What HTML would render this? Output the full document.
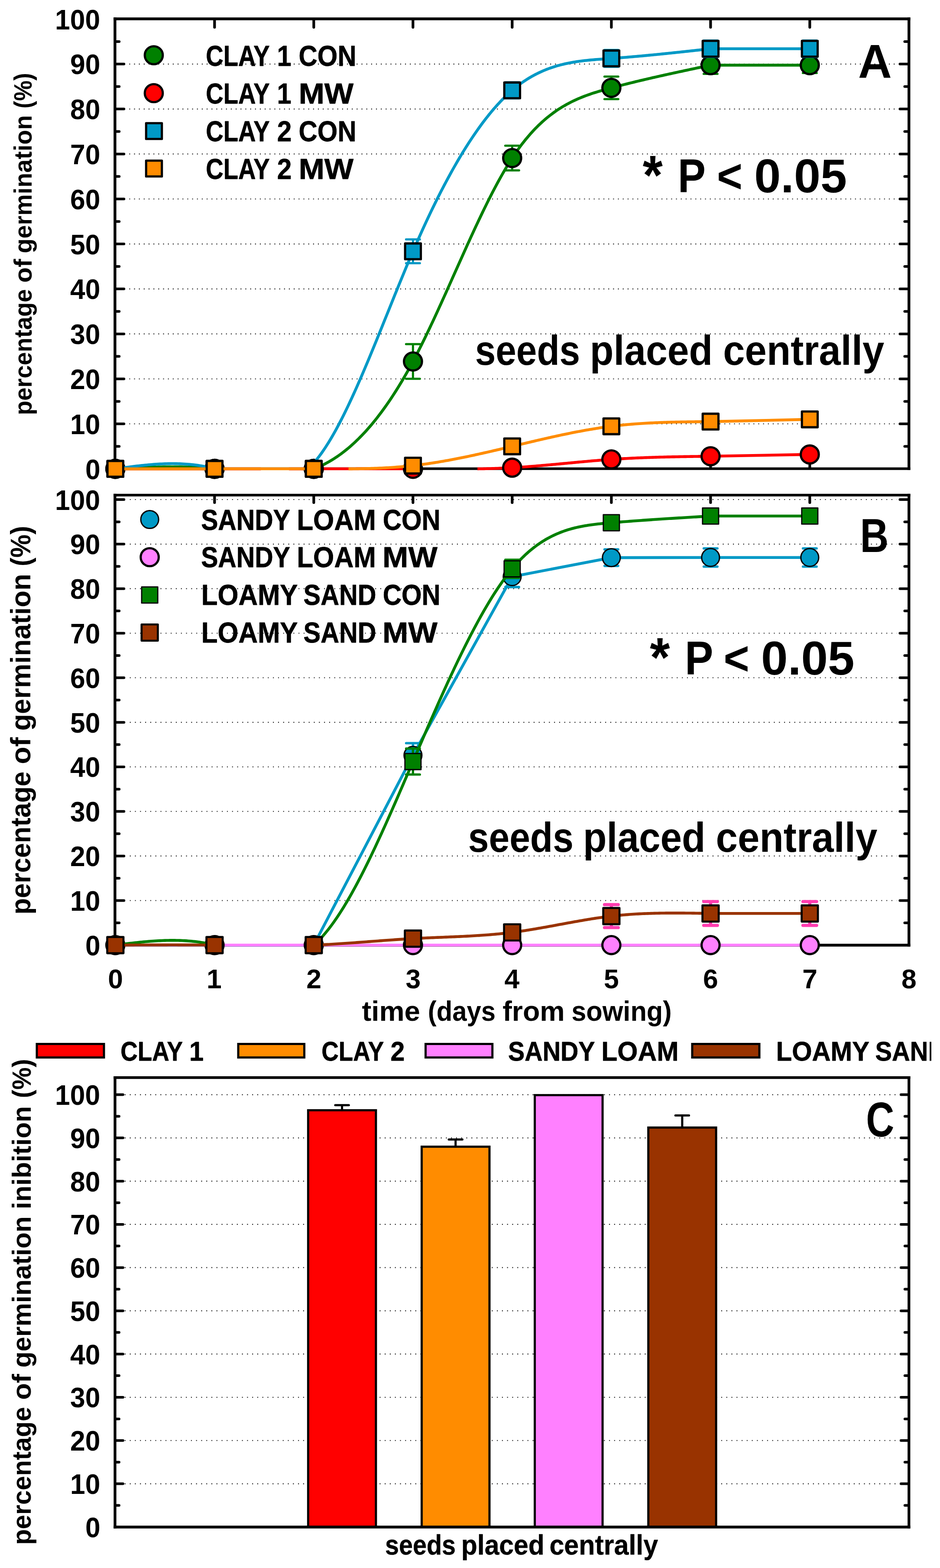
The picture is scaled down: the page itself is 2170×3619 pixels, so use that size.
<!DOCTYPE html>
<html lang="en"><head><meta charset="utf-8"><title>Germination figure</title>
<style>html,body{margin:0;padding:0;background:#fff;overflow:hidden}svg{display:block}</style></head>
<body>
<svg width="2170" height="3619" viewBox="0 0 2170 3619">
<rect width="2170" height="3619" fill="#fff"/>
<g id="panelA">
<line x1="298.3" y1="978.29" x2="2070.0" y2="978.29" stroke="#151515" stroke-width="2.15" stroke-dasharray="2.15 9.02"/>
<line x1="298.3" y1="874.48" x2="2070.0" y2="874.48" stroke="#151515" stroke-width="2.15" stroke-dasharray="2.15 9.02"/>
<line x1="298.3" y1="770.67" x2="2070.0" y2="770.67" stroke="#151515" stroke-width="2.15" stroke-dasharray="2.15 9.02"/>
<line x1="298.3" y1="666.86" x2="2070.0" y2="666.86" stroke="#151515" stroke-width="2.15" stroke-dasharray="2.15 9.02"/>
<line x1="298.3" y1="563.05" x2="2070.0" y2="563.05" stroke="#151515" stroke-width="2.15" stroke-dasharray="2.15 9.02"/>
<line x1="298.3" y1="459.24" x2="2070.0" y2="459.24" stroke="#151515" stroke-width="2.15" stroke-dasharray="2.15 9.02"/>
<line x1="298.3" y1="355.43" x2="2070.0" y2="355.43" stroke="#151515" stroke-width="2.15" stroke-dasharray="2.15 9.02"/>
<line x1="298.3" y1="251.62" x2="2070.0" y2="251.62" stroke="#151515" stroke-width="2.15" stroke-dasharray="2.15 9.02"/>
<line x1="298.3" y1="147.81" x2="2070.0" y2="147.81" stroke="#151515" stroke-width="2.15" stroke-dasharray="2.15 9.02"/>
<g stroke="#000" stroke-linecap="butt">
<line x1="265.40" y1="40.15" x2="265.40" y2="1084.85" stroke-width="6.40"/>
<line x1="2098.30" y1="40.15" x2="2098.30" y2="1084.85" stroke-width="6.40"/>
<line x1="262.20" y1="43.40" x2="2101.50" y2="43.40" stroke-width="6.50"/>
<line x1="262.20" y1="1081.85" x2="2101.50" y2="1081.85" stroke-width="6.00"/>
</g>
<line x1="266.90" y1="1030.19" x2="275.20" y2="1030.19" stroke="#000" stroke-width="6.00" stroke-linecap="round"/>
<line x1="2096.80" y1="1030.19" x2="2088.50" y2="1030.19" stroke="#000" stroke-width="6.00" stroke-linecap="round"/>
<line x1="266.90" y1="978.29" x2="286.20" y2="978.29" stroke="#000" stroke-width="6.00" stroke-linecap="round"/>
<line x1="2096.80" y1="978.29" x2="2077.50" y2="978.29" stroke="#000" stroke-width="6.00" stroke-linecap="round"/>
<line x1="266.90" y1="926.38" x2="275.20" y2="926.38" stroke="#000" stroke-width="6.00" stroke-linecap="round"/>
<line x1="2096.80" y1="926.38" x2="2088.50" y2="926.38" stroke="#000" stroke-width="6.00" stroke-linecap="round"/>
<line x1="266.90" y1="874.48" x2="286.20" y2="874.48" stroke="#000" stroke-width="6.00" stroke-linecap="round"/>
<line x1="2096.80" y1="874.48" x2="2077.50" y2="874.48" stroke="#000" stroke-width="6.00" stroke-linecap="round"/>
<line x1="266.90" y1="822.57" x2="275.20" y2="822.57" stroke="#000" stroke-width="6.00" stroke-linecap="round"/>
<line x1="2096.80" y1="822.57" x2="2088.50" y2="822.57" stroke="#000" stroke-width="6.00" stroke-linecap="round"/>
<line x1="266.90" y1="770.67" x2="286.20" y2="770.67" stroke="#000" stroke-width="6.00" stroke-linecap="round"/>
<line x1="2096.80" y1="770.67" x2="2077.50" y2="770.67" stroke="#000" stroke-width="6.00" stroke-linecap="round"/>
<line x1="266.90" y1="718.76" x2="275.20" y2="718.76" stroke="#000" stroke-width="6.00" stroke-linecap="round"/>
<line x1="2096.80" y1="718.76" x2="2088.50" y2="718.76" stroke="#000" stroke-width="6.00" stroke-linecap="round"/>
<line x1="266.90" y1="666.86" x2="286.20" y2="666.86" stroke="#000" stroke-width="6.00" stroke-linecap="round"/>
<line x1="2096.80" y1="666.86" x2="2077.50" y2="666.86" stroke="#000" stroke-width="6.00" stroke-linecap="round"/>
<line x1="266.90" y1="614.95" x2="275.20" y2="614.95" stroke="#000" stroke-width="6.00" stroke-linecap="round"/>
<line x1="2096.80" y1="614.95" x2="2088.50" y2="614.95" stroke="#000" stroke-width="6.00" stroke-linecap="round"/>
<line x1="266.90" y1="563.05" x2="286.20" y2="563.05" stroke="#000" stroke-width="6.00" stroke-linecap="round"/>
<line x1="2096.80" y1="563.05" x2="2077.50" y2="563.05" stroke="#000" stroke-width="6.00" stroke-linecap="round"/>
<line x1="266.90" y1="511.14" x2="275.20" y2="511.14" stroke="#000" stroke-width="6.00" stroke-linecap="round"/>
<line x1="2096.80" y1="511.14" x2="2088.50" y2="511.14" stroke="#000" stroke-width="6.00" stroke-linecap="round"/>
<line x1="266.90" y1="459.24" x2="286.20" y2="459.24" stroke="#000" stroke-width="6.00" stroke-linecap="round"/>
<line x1="2096.80" y1="459.24" x2="2077.50" y2="459.24" stroke="#000" stroke-width="6.00" stroke-linecap="round"/>
<line x1="266.90" y1="407.33" x2="275.20" y2="407.33" stroke="#000" stroke-width="6.00" stroke-linecap="round"/>
<line x1="2096.80" y1="407.33" x2="2088.50" y2="407.33" stroke="#000" stroke-width="6.00" stroke-linecap="round"/>
<line x1="266.90" y1="355.43" x2="286.20" y2="355.43" stroke="#000" stroke-width="6.00" stroke-linecap="round"/>
<line x1="2096.80" y1="355.43" x2="2077.50" y2="355.43" stroke="#000" stroke-width="6.00" stroke-linecap="round"/>
<line x1="266.90" y1="303.52" x2="275.20" y2="303.52" stroke="#000" stroke-width="6.00" stroke-linecap="round"/>
<line x1="2096.80" y1="303.52" x2="2088.50" y2="303.52" stroke="#000" stroke-width="6.00" stroke-linecap="round"/>
<line x1="266.90" y1="251.62" x2="286.20" y2="251.62" stroke="#000" stroke-width="6.00" stroke-linecap="round"/>
<line x1="2096.80" y1="251.62" x2="2077.50" y2="251.62" stroke="#000" stroke-width="6.00" stroke-linecap="round"/>
<line x1="266.90" y1="199.71" x2="275.20" y2="199.71" stroke="#000" stroke-width="6.00" stroke-linecap="round"/>
<line x1="2096.80" y1="199.71" x2="2088.50" y2="199.71" stroke="#000" stroke-width="6.00" stroke-linecap="round"/>
<line x1="266.90" y1="147.81" x2="286.20" y2="147.81" stroke="#000" stroke-width="6.00" stroke-linecap="round"/>
<line x1="2096.80" y1="147.81" x2="2077.50" y2="147.81" stroke="#000" stroke-width="6.00" stroke-linecap="round"/>
<line x1="266.90" y1="95.90" x2="275.20" y2="95.90" stroke="#000" stroke-width="6.00" stroke-linecap="round"/>
<line x1="2096.80" y1="95.90" x2="2088.50" y2="95.90" stroke="#000" stroke-width="6.00" stroke-linecap="round"/>
<line x1="495.31" y1="45.00" x2="495.31" y2="63.00" stroke="#000" stroke-width="6.20" stroke-linecap="round"/>
<line x1="724.33" y1="45.00" x2="724.33" y2="63.00" stroke="#000" stroke-width="6.20" stroke-linecap="round"/>
<line x1="953.34" y1="45.00" x2="953.34" y2="63.00" stroke="#000" stroke-width="6.20" stroke-linecap="round"/>
<line x1="1182.35" y1="45.00" x2="1182.35" y2="63.00" stroke="#000" stroke-width="6.20" stroke-linecap="round"/>
<line x1="1411.36" y1="45.00" x2="1411.36" y2="63.00" stroke="#000" stroke-width="6.20" stroke-linecap="round"/>
<line x1="1640.38" y1="45.00" x2="1640.38" y2="63.00" stroke="#000" stroke-width="6.20" stroke-linecap="round"/>
<line x1="1869.39" y1="45.00" x2="1869.39" y2="63.00" stroke="#000" stroke-width="6.20" stroke-linecap="round"/>
<line x1="495.31" y1="1080.50" x2="495.31" y2="1062.50" stroke="#000" stroke-width="6.20" stroke-linecap="round"/>
<line x1="724.33" y1="1080.50" x2="724.33" y2="1062.50" stroke="#000" stroke-width="6.20" stroke-linecap="round"/>
<line x1="953.34" y1="1080.50" x2="953.34" y2="1062.50" stroke="#000" stroke-width="6.20" stroke-linecap="round"/>
<line x1="1182.35" y1="1080.50" x2="1182.35" y2="1062.50" stroke="#000" stroke-width="6.20" stroke-linecap="round"/>
<line x1="1411.36" y1="1080.50" x2="1411.36" y2="1062.50" stroke="#000" stroke-width="6.20" stroke-linecap="round"/>
<line x1="1640.38" y1="1080.50" x2="1640.38" y2="1062.50" stroke="#000" stroke-width="6.20" stroke-linecap="round"/>
<line x1="1869.39" y1="1080.50" x2="1869.39" y2="1062.50" stroke="#000" stroke-width="6.20" stroke-linecap="round"/>
<text transform="matrix(0.6240 0 0 0.6460 196.88 1105.60)" font-family="Liberation Sans, sans-serif" font-weight="bold" font-size="100" fill="#000">0</text>
<text transform="matrix(0.6240 0 0 0.6460 161.93 1001.79)" font-family="Liberation Sans, sans-serif" font-weight="bold" font-size="100" fill="#000">10</text>
<text transform="matrix(0.6240 0 0 0.6460 161.93 897.98)" font-family="Liberation Sans, sans-serif" font-weight="bold" font-size="100" fill="#000">20</text>
<text transform="matrix(0.6240 0 0 0.6460 161.93 794.17)" font-family="Liberation Sans, sans-serif" font-weight="bold" font-size="100" fill="#000">30</text>
<text transform="matrix(0.6240 0 0 0.6460 161.93 690.36)" font-family="Liberation Sans, sans-serif" font-weight="bold" font-size="100" fill="#000">40</text>
<text transform="matrix(0.6240 0 0 0.6460 161.93 586.55)" font-family="Liberation Sans, sans-serif" font-weight="bold" font-size="100" fill="#000">50</text>
<text transform="matrix(0.6240 0 0 0.6460 161.93 482.74)" font-family="Liberation Sans, sans-serif" font-weight="bold" font-size="100" fill="#000">60</text>
<text transform="matrix(0.6240 0 0 0.6460 161.93 378.93)" font-family="Liberation Sans, sans-serif" font-weight="bold" font-size="100" fill="#000">70</text>
<text transform="matrix(0.6240 0 0 0.6460 161.93 275.12)" font-family="Liberation Sans, sans-serif" font-weight="bold" font-size="100" fill="#000">80</text>
<text transform="matrix(0.6240 0 0 0.6460 161.93 171.31)" font-family="Liberation Sans, sans-serif" font-weight="bold" font-size="100" fill="#000">90</text>
<text transform="matrix(0.6240 0 0 0.6460 126.99 67.50)" font-family="Liberation Sans, sans-serif" font-weight="bold" font-size="100" fill="#000">100</text>
<text transform="matrix(0 -1 0.5700 0 73.20 0)" font-family="Liberation Sans, sans-serif" font-weight="bold" font-size="100" fill="#000"><tspan x="-958.01" y="0.00" textLength="290.65" lengthAdjust="spacingAndGlyphs">percentage</tspan> <tspan x="-652.52" y="0.00" textLength="54.75" lengthAdjust="spacingAndGlyphs">of</tspan> <tspan x="-584.53" y="0.00" textLength="318.72" lengthAdjust="spacingAndGlyphs">germination</tspan> <tspan x="-250.44" y="0.00" textLength="82.03" lengthAdjust="spacingAndGlyphs">(%)</tspan></text>
<path d="M266.30 1082.10 L270.12 1081.90 L273.93 1081.70 L277.75 1081.50 L281.57 1081.30 L285.38 1081.10 L289.20 1080.90 L293.02 1080.71 L296.84 1080.52 L300.65 1080.33 L304.47 1080.14 L308.29 1079.96 L312.10 1079.78 L315.92 1079.60 L319.74 1079.43 L323.55 1079.27 L327.37 1079.11 L331.19 1078.95 L335.00 1078.80 L338.82 1078.66 L342.64 1078.52 L346.45 1078.39 L350.27 1078.26 L354.09 1078.15 L357.91 1078.04 L361.72 1077.94 L365.54 1077.85 L369.36 1077.76 L373.17 1077.69 L376.99 1077.62 L380.81 1077.57 L384.62 1077.52 L388.44 1077.49 L392.26 1077.46 L396.07 1077.45 L399.89 1077.45 L403.71 1077.46 L407.52 1077.48 L411.34 1077.51 L415.16 1077.56 L418.98 1077.62 L422.79 1077.70 L426.61 1077.78 L430.43 1077.89 L434.24 1078.00 L438.06 1078.13 L441.88 1078.28 L445.69 1078.44 L449.51 1078.62 L453.33 1078.81 L457.14 1079.02 L460.96 1079.25 L464.78 1079.49 L468.59 1079.75 L472.41 1080.03 L476.23 1080.33 L480.05 1080.65 L483.86 1080.98 L487.68 1081.33 L491.50 1081.71 L495.31 1082.10 M724.33 1082.10 L728.14 1080.65 L731.96 1079.12 L735.78 1077.50 L739.59 1075.81 L743.41 1074.03 L747.23 1072.17 L751.04 1070.22 L754.86 1068.19 L758.68 1066.08 L762.49 1063.88 L766.31 1061.60 L770.13 1059.23 L773.94 1056.77 L777.76 1054.23 L781.58 1051.59 L785.39 1048.87 L789.21 1046.07 L793.03 1043.17 L796.85 1040.18 L800.66 1037.10 L804.48 1033.93 L808.30 1030.67 L812.11 1027.32 L815.93 1023.88 L819.75 1020.34 L823.56 1016.72 L827.38 1012.99 L831.20 1009.18 L835.01 1005.26 L838.83 1001.26 L842.65 997.16 L846.46 992.96 L850.28 988.66 L854.10 984.27 L857.92 979.78 L861.73 975.19 L865.55 970.50 L869.37 965.72 L873.18 960.83 L877.00 955.85 L880.82 950.76 L884.63 945.57 L888.45 940.28 L892.27 934.89 L896.08 929.39 L899.90 923.80 L903.72 918.09 L907.54 912.29 L911.35 906.38 L915.17 900.36 L918.99 894.24 L922.80 888.01 L926.62 881.68 L930.44 875.24 L934.25 868.69 L938.07 862.03 L941.89 855.26 L945.70 848.39 L949.52 841.40 L953.34 834.31 L957.15 827.10 L960.97 819.79 L964.79 812.37 L968.61 804.86 L972.42 797.26 L976.24 789.56 L980.06 781.79 L983.87 773.93 L987.69 766.00 L991.51 757.99 L995.32 749.92 L999.14 741.79 L1002.96 733.60 L1006.77 725.35 L1010.59 717.06 L1014.41 708.72 L1018.22 700.35 L1022.04 691.93 L1025.86 683.49 L1029.68 675.02 L1033.49 666.52 L1037.31 658.01 L1041.13 649.49 L1044.94 640.95 L1048.76 632.41 L1052.58 623.87 L1056.39 615.33 L1060.21 606.81 L1064.03 598.29 L1067.84 589.79 L1071.66 581.32 L1075.48 572.87 L1079.29 564.45 L1083.11 556.06 L1086.93 547.72 L1090.75 539.42 L1094.56 531.16 L1098.38 522.96 L1102.20 514.82 L1106.01 506.74 L1109.83 498.72 L1113.65 490.77 L1117.46 482.90 L1121.28 475.11 L1125.10 467.40 L1128.91 459.78 L1132.73 452.25 L1136.55 444.82 L1140.36 437.48 L1144.18 430.26 L1148.00 423.14 L1151.82 416.14 L1155.63 409.26 L1159.45 402.50 L1163.27 395.87 L1167.08 389.37 L1170.90 383.00 L1174.72 376.78 L1178.53 370.70 L1182.35 364.77 L1186.17 359.00 L1189.98 353.37 L1193.80 347.90 L1197.62 342.57 L1201.43 337.39 L1205.25 332.35 L1209.07 327.45 L1212.88 322.68 L1216.70 318.05 L1220.52 313.55 L1224.34 309.18 L1228.15 304.94 L1231.97 300.82 L1235.79 296.83 L1239.60 292.95 L1243.42 289.20 L1247.24 285.55 L1251.05 282.02 L1254.87 278.60 L1258.69 275.29 L1262.50 272.08 L1266.32 268.98 L1270.14 265.97 L1273.96 263.06 L1277.77 260.25 L1281.59 257.53 L1285.41 254.90 L1289.22 252.36 L1293.04 249.91 L1296.86 247.53 L1300.67 245.24 L1304.49 243.03 L1308.31 240.89 L1312.12 238.83 L1315.94 236.83 L1319.76 234.91 L1323.57 233.05 L1327.39 231.25 L1331.21 229.52 L1335.03 227.84 L1338.84 226.22 L1342.66 224.65 L1346.48 223.14 L1350.29 221.67 L1354.11 220.25 L1357.93 218.87 L1361.74 217.54 L1365.56 216.24 L1369.38 214.98 L1373.19 213.75 L1377.01 212.56 L1380.83 211.39 L1384.64 210.26 L1388.46 209.14 L1392.28 208.05 L1396.10 206.98 L1399.91 205.92 L1403.73 204.88 L1407.55 203.85 L1411.36 202.83 L1415.18 201.82 L1419.00 200.81 L1422.81 199.81 L1426.63 198.82 L1430.45 197.84 L1434.26 196.86 L1438.08 195.88 L1441.90 194.92 L1445.71 193.96 L1449.53 193.00 L1453.35 192.06 L1457.17 191.12 L1460.98 190.18 L1464.80 189.25 L1468.62 188.32 L1472.43 187.40 L1476.25 186.49 L1480.07 185.58 L1483.88 184.67 L1487.70 183.77 L1491.52 182.88 L1495.33 181.99 L1499.15 181.10 L1502.97 180.22 L1506.78 179.34 L1510.60 178.47 L1514.42 177.60 L1518.24 176.74 L1522.05 175.87 L1525.87 175.02 L1529.69 174.16 L1533.50 173.31 L1537.32 172.46 L1541.14 171.62 L1544.95 170.78 L1548.77 169.94 L1552.59 169.11 L1556.40 168.27 L1560.22 167.44 L1564.04 166.62 L1567.85 165.79 L1571.67 164.97 L1575.49 164.15 L1579.31 163.33 L1583.12 162.51 L1586.94 161.70 L1590.76 160.88 L1594.57 160.07 L1598.39 159.26 L1602.21 158.45 L1606.02 157.64 L1609.84 156.84 L1613.66 156.03 L1617.47 155.23 L1621.29 154.42 L1625.11 153.62 L1628.92 152.81 L1632.74 152.01 L1636.56 151.21 L1640.38 150.41 L1869.39 150.41" fill="none" stroke="#008000" stroke-width="6.60" stroke-linejoin="round" stroke-linecap="butt"/>
<path d="M953.34 794.31 V874.31 M937.34 794.31 H969.34 M937.34 874.31 H969.34" fill="none" stroke="#008000" stroke-width="5.00" stroke-linecap="round"/>
<path d="M1182.35 336.27 V393.27 M1166.35 336.27 H1198.35 M1166.35 393.27 H1198.35" fill="none" stroke="#008000" stroke-width="5.00" stroke-linecap="round"/>
<path d="M1411.36 176.83 V228.83 M1395.36 176.83 H1427.36 M1395.36 228.83 H1427.36" fill="none" stroke="#008000" stroke-width="5.00" stroke-linecap="round"/>
<path d="M1640.38 130.41 V170.41 M1624.38 130.41 H1656.38 M1624.38 170.41 H1656.38" fill="none" stroke="#008000" stroke-width="5.00" stroke-linecap="round"/>
<path d="M1869.39 132.41 V168.41 M1853.39 132.41 H1885.39 M1853.39 168.41 H1885.39" fill="none" stroke="#008000" stroke-width="5.00" stroke-linecap="round"/>
<circle cx="266.30" cy="1082.10" r="20.80" fill="#008000" stroke="#000" stroke-width="5.10"/>
<circle cx="495.31" cy="1082.10" r="20.80" fill="#008000" stroke="#000" stroke-width="5.10"/>
<circle cx="724.33" cy="1082.10" r="20.80" fill="#008000" stroke="#000" stroke-width="5.10"/>
<circle cx="953.34" cy="834.31" r="20.80" fill="#008000" stroke="#000" stroke-width="5.10"/>
<circle cx="1182.35" cy="364.77" r="20.80" fill="#008000" stroke="#000" stroke-width="5.10"/>
<circle cx="1411.36" cy="202.83" r="20.80" fill="#008000" stroke="#000" stroke-width="5.10"/>
<circle cx="1640.38" cy="150.41" r="20.80" fill="#008000" stroke="#000" stroke-width="5.10"/>
<circle cx="1869.39" cy="150.41" r="20.80" fill="#008000" stroke="#000" stroke-width="5.10"/>
<path d="M266.30 1082.10 L270.12 1082.10 L273.93 1082.10 L277.75 1082.10 L281.57 1082.10 L285.38 1082.10 L289.20 1082.10 L293.02 1082.09 L296.84 1082.09 L300.65 1082.09 L304.47 1082.09 L308.29 1082.09 L312.10 1082.09 L315.92 1082.09 L319.74 1082.09 L323.55 1082.09 L327.37 1082.09 L331.19 1082.09 L335.00 1082.09 L338.82 1082.09 L342.64 1082.09 L346.45 1082.09 L350.27 1082.08 L354.09 1082.08 L357.91 1082.08 L361.72 1082.08 L365.54 1082.08 L369.36 1082.08 L373.17 1082.08 L376.99 1082.08 L380.81 1082.08 L384.62 1082.08 L388.44 1082.08 L392.26 1082.08 L396.07 1082.08 L399.89 1082.08 L403.71 1082.08 L407.52 1082.08 L411.34 1082.08 L415.16 1082.08 L418.98 1082.08 L422.79 1082.08 L426.61 1082.08 L430.43 1082.08 L434.24 1082.08 L438.06 1082.08 L441.88 1082.09 L445.69 1082.09 L449.51 1082.09 L453.33 1082.09 L457.14 1082.09 L460.96 1082.09 L464.78 1082.09 L468.59 1082.09 L472.41 1082.09 L476.23 1082.09 L480.05 1082.09 L483.86 1082.10 L487.68 1082.10 L491.50 1082.10 L495.31 1082.10 L499.13 1082.10 L502.95 1082.10 L506.76 1082.10 L510.58 1082.10 L514.40 1082.10 L518.21 1082.10 L522.03 1082.10 L525.85 1082.10 L529.66 1082.10 L533.48 1082.10 L537.30 1082.10 L541.12 1082.10 L544.93 1082.10 L548.75 1082.10 L552.57 1082.10 L556.38 1082.10 L560.20 1082.10 L564.02 1082.10 L567.83 1082.10 L571.65 1082.10 L575.47 1082.10 L579.28 1082.10 L583.10 1082.10 L586.92 1082.10 L590.73 1082.10 L594.55 1082.10 L598.37 1082.10 L602.18 1082.10 M667.07 1082.10 L670.89 1082.10 L674.71 1082.10 L678.52 1082.10 L682.34 1082.10 L686.16 1082.10 L689.97 1082.10 L693.79 1082.10 L697.61 1082.10 L701.42 1082.10 L705.24 1082.10 L709.06 1082.10 L712.87 1082.10 L716.69 1082.10 L720.51 1082.10 L724.33 1082.10 L728.14 1082.09 L731.96 1082.09 L735.78 1082.08 L739.59 1082.08 L743.41 1082.07 L747.23 1082.06 L751.04 1082.05 L754.86 1082.05 L758.68 1082.04 L762.49 1082.03 L766.31 1082.03 L770.13 1082.02 L773.94 1082.01 L777.76 1082.00 L781.58 1082.00 L785.39 1081.99 L789.21 1081.98 L793.03 1081.97 L796.85 1081.97 L800.66 1081.96 L804.48 1081.95 L808.30 1081.95 L812.11 1081.94 L815.93 1081.93 L819.75 1081.93 L823.56 1081.92 L827.38 1081.92 L831.20 1081.91 L835.01 1081.91 L838.83 1081.90 L842.65 1081.90 L846.46 1081.90 L850.28 1081.90 L854.10 1081.89 L857.92 1081.89 L861.73 1081.89 L865.55 1081.89 L869.37 1081.89 L873.18 1081.89 L877.00 1081.89 L880.82 1081.90 L884.63 1081.90 L888.45 1081.90 L892.27 1081.91 L896.08 1081.91 L899.90 1081.92 L903.72 1081.92 L907.54 1081.93 L911.35 1081.94 L915.17 1081.95 L918.99 1081.96 L922.80 1081.97 L926.62 1081.98 L930.44 1082.00 L934.25 1082.01 L938.07 1082.03 L941.89 1082.04 L945.70 1082.06 L949.52 1082.08 L953.34 1082.10 L957.15 1082.10 L960.97 1082.10 M1102.20 1082.10 L1106.01 1082.07 L1109.83 1082.00 L1113.65 1081.93 L1117.46 1081.85 L1121.28 1081.76 L1125.10 1081.67 L1128.91 1081.57 L1132.73 1081.46 L1136.55 1081.35 L1140.36 1081.23 L1144.18 1081.10 L1148.00 1080.96 L1151.82 1080.82 L1155.63 1080.67 L1159.45 1080.52 L1163.27 1080.35 L1167.08 1080.18 L1170.90 1080.00 L1174.72 1079.81 L1178.53 1079.61 L1182.35 1079.40 L1186.17 1079.18 L1189.98 1078.96 L1193.80 1078.73 L1197.62 1078.49 L1201.43 1078.24 L1205.25 1077.98 L1209.07 1077.72 L1212.88 1077.45 L1216.70 1077.17 L1220.52 1076.88 L1224.34 1076.59 L1228.15 1076.30 L1231.97 1076.00 L1235.79 1075.69 L1239.60 1075.37 L1243.42 1075.06 L1247.24 1074.74 L1251.05 1074.41 L1254.87 1074.08 L1258.69 1073.74 L1262.50 1073.41 L1266.32 1073.06 L1270.14 1072.72 L1273.96 1072.37 L1277.77 1072.02 L1281.59 1071.67 L1285.41 1071.32 L1289.22 1070.96 L1293.04 1070.60 L1296.86 1070.25 L1300.67 1069.89 L1304.49 1069.53 L1308.31 1069.17 L1312.12 1068.81 L1315.94 1068.45 L1319.76 1068.09 L1323.57 1067.73 L1327.39 1067.37 L1331.21 1067.02 L1335.03 1066.66 L1338.84 1066.31 L1342.66 1065.96 L1346.48 1065.61 L1350.29 1065.26 L1354.11 1064.92 L1357.93 1064.58 L1361.74 1064.24 L1365.56 1063.91 L1369.38 1063.58 L1373.19 1063.26 L1377.01 1062.94 L1380.83 1062.62 L1384.64 1062.31 L1388.46 1062.01 L1392.28 1061.71 L1396.10 1061.41 L1399.91 1061.12 L1403.73 1060.84 L1407.55 1060.57 L1411.36 1060.30 L1415.18 1060.04 L1419.00 1059.79 L1422.81 1059.54 L1426.63 1059.30 L1430.45 1059.07 L1434.26 1058.84 L1438.08 1058.62 L1441.90 1058.40 L1445.71 1058.20 L1449.53 1057.99 L1453.35 1057.80 L1457.17 1057.61 L1460.98 1057.42 L1464.80 1057.25 L1468.62 1057.07 L1472.43 1056.91 L1476.25 1056.74 L1480.07 1056.59 L1483.88 1056.43 L1487.70 1056.29 L1491.52 1056.14 L1495.33 1056.01 L1499.15 1055.87 L1502.97 1055.74 L1506.78 1055.62 L1510.60 1055.50 L1514.42 1055.38 L1518.24 1055.27 L1522.05 1055.16 L1525.87 1055.06 L1529.69 1054.95 L1533.50 1054.86 L1537.32 1054.76 L1541.14 1054.67 L1544.95 1054.58 L1548.77 1054.50 L1552.59 1054.41 L1556.40 1054.33 L1560.22 1054.26 L1564.04 1054.18 L1567.85 1054.11 L1571.67 1054.04 L1575.49 1053.97 L1579.31 1053.91 L1583.12 1053.84 L1586.94 1053.78 L1590.76 1053.72 L1594.57 1053.66 L1598.39 1053.60 L1602.21 1053.55 L1606.02 1053.49 L1609.84 1053.44 L1613.66 1053.39 L1617.47 1053.33 L1621.29 1053.28 L1625.11 1053.23 L1628.92 1053.18 L1632.74 1053.13 L1636.56 1053.08 L1640.38 1053.03 L1869.39 1048.88" fill="none" stroke="#FF0000" stroke-width="6.60" stroke-linejoin="round" stroke-linecap="butt"/>
<circle cx="266.30" cy="1082.10" r="20.80" fill="#FF0000" stroke="#000" stroke-width="5.10"/>
<circle cx="495.31" cy="1082.10" r="20.80" fill="#FF0000" stroke="#000" stroke-width="5.10"/>
<circle cx="724.33" cy="1082.10" r="20.80" fill="#FF0000" stroke="#000" stroke-width="5.10"/>
<circle cx="953.34" cy="1082.10" r="20.80" fill="#FF0000" stroke="#000" stroke-width="5.10"/>
<circle cx="1182.35" cy="1079.40" r="20.80" fill="#FF0000" stroke="#000" stroke-width="5.10"/>
<circle cx="1411.36" cy="1060.30" r="20.80" fill="#FF0000" stroke="#000" stroke-width="5.10"/>
<circle cx="1640.38" cy="1053.03" r="20.80" fill="#FF0000" stroke="#000" stroke-width="5.10"/>
<circle cx="1869.39" cy="1048.88" r="20.80" fill="#FF0000" stroke="#000" stroke-width="5.10"/>
<path d="M266.30 1082.10 L270.12 1081.58 L273.93 1081.06 L277.75 1080.54 L281.57 1080.02 L285.38 1079.51 L289.20 1079.00 L293.02 1078.50 L296.84 1078.00 L300.65 1077.51 L304.47 1077.03 L308.29 1076.56 L312.10 1076.09 L315.92 1075.64 L319.74 1075.20 L323.55 1074.77 L327.37 1074.35 L331.19 1073.95 L335.00 1073.56 L338.82 1073.19 L342.64 1072.83 L346.45 1072.49 L350.27 1072.17 L354.09 1071.87 L357.91 1071.59 L361.72 1071.33 L365.54 1071.09 L369.36 1070.88 L373.17 1070.68 L376.99 1070.51 L380.81 1070.37 L384.62 1070.25 L388.44 1070.16 L392.26 1070.10 L396.07 1070.07 L399.89 1070.06 L403.71 1070.09 L407.52 1070.15 L411.34 1070.24 L415.16 1070.36 L418.98 1070.52 L422.79 1070.71 L426.61 1070.93 L430.43 1071.20 L434.24 1071.50 L438.06 1071.84 L441.88 1072.22 L445.69 1072.63 L449.51 1073.09 L453.33 1073.59 L457.14 1074.14 L460.96 1074.72 L464.78 1075.35 L468.59 1076.03 L472.41 1076.75 L476.23 1077.52 L480.05 1078.34 L483.86 1079.20 L487.68 1080.12 L491.50 1081.08 L495.31 1082.10 M712.87 1080.56 L716.69 1076.80 L720.51 1072.81 L724.33 1068.60 L728.14 1064.17 L731.96 1059.50 L735.78 1054.62 L739.59 1049.52 L743.41 1044.21 L747.23 1038.69 L751.04 1032.97 L754.86 1027.06 L758.68 1020.96 L762.49 1014.68 L766.31 1008.22 L770.13 1001.58 L773.94 994.77 L777.76 987.80 L781.58 980.68 L785.39 973.40 L789.21 965.97 L793.03 958.39 L796.85 950.68 L800.66 942.84 L804.48 934.87 L808.30 926.78 L812.11 918.57 L815.93 910.25 L819.75 901.83 L823.56 893.30 L827.38 884.67 L831.20 875.96 L835.01 867.16 L838.83 858.28 L842.65 849.32 L846.46 840.29 L850.28 831.20 L854.10 822.05 L857.92 812.84 L861.73 803.58 L865.55 794.28 L869.37 784.94 L873.18 775.57 L877.00 766.17 L880.82 756.74 L884.63 747.30 L888.45 737.84 L892.27 728.38 L896.08 718.91 L899.90 709.44 L903.72 699.98 L907.54 690.54 L911.35 681.11 L915.17 671.71 L918.99 662.33 L922.80 652.99 L926.62 643.68 L930.44 634.42 L934.25 625.21 L938.07 616.06 L941.89 606.96 L945.70 597.93 L949.52 588.96 L953.34 580.07 L957.15 571.27 L960.97 562.54 L964.79 553.89 L968.61 545.33 L972.42 536.84 L976.24 528.44 L980.06 520.12 L983.87 511.89 L987.69 503.74 L991.51 495.67 L995.32 487.68 L999.14 479.78 L1002.96 471.97 L1006.77 464.24 L1010.59 456.60 L1014.41 449.05 L1018.22 441.58 L1022.04 434.19 L1025.86 426.90 L1029.68 419.70 L1033.49 412.58 L1037.31 405.55 L1041.13 398.61 L1044.94 391.76 L1048.76 385.00 L1052.58 378.34 L1056.39 371.76 L1060.21 365.27 L1064.03 358.88 L1067.84 352.58 L1071.66 346.37 L1075.48 340.25 L1079.29 334.23 L1083.11 328.30 L1086.93 322.47 L1090.75 316.73 L1094.56 311.09 L1098.38 305.54 L1102.20 300.09 L1106.01 294.73 L1109.83 289.48 L1113.65 284.32 L1117.46 279.25 L1121.28 274.29 L1125.10 269.42 L1128.91 264.65 L1132.73 259.99 L1136.55 255.42 L1140.36 250.95 L1144.18 246.58 L1148.00 242.32 L1151.82 238.15 L1155.63 234.09 L1159.45 230.13 L1163.27 226.27 L1167.08 222.52 L1170.90 218.87 L1174.72 215.32 L1178.53 211.88 L1182.35 208.54 L1186.17 205.31 L1189.98 202.18 L1193.80 199.15 L1197.62 196.22 L1201.43 193.39 L1205.25 190.66 L1209.07 188.02 L1212.88 185.47 L1216.70 183.02 L1220.52 180.65 L1224.34 178.37 L1228.15 176.17 L1231.97 174.06 L1235.79 172.03 L1239.60 170.08 L1243.42 168.20 L1247.24 166.40 L1251.05 164.68 L1254.87 163.03 L1258.69 161.45 L1262.50 159.94 L1266.32 158.49 L1270.14 157.11 L1273.96 155.79 L1277.77 154.53 L1281.59 153.34 L1285.41 152.20 L1289.22 151.11 L1293.04 150.08 L1296.86 149.10 L1300.67 148.17 L1304.49 147.30 L1308.31 146.46 L1312.12 145.67 L1315.94 144.93 L1319.76 144.22 L1323.57 143.56 L1327.39 142.93 L1331.21 142.34 L1335.03 141.78 L1338.84 141.25 L1342.66 140.75 L1346.48 140.28 L1350.29 139.84 L1354.11 139.42 L1357.93 139.03 L1361.74 138.65 L1365.56 138.29 L1369.38 137.96 L1373.19 137.63 L1377.01 137.32 L1380.83 137.02 L1384.64 136.74 L1388.46 136.45 L1392.28 136.18 L1396.10 135.91 L1399.91 135.64 L1403.73 135.37 L1407.55 135.11 L1411.36 134.83 L1415.18 134.56 L1419.00 134.28 L1422.81 133.99 L1426.63 133.70 L1430.45 133.41 L1434.26 133.11 L1438.08 132.80 L1441.90 132.49 L1445.71 132.18 L1449.53 131.86 L1453.35 131.54 L1457.17 131.22 L1460.98 130.89 L1464.80 130.56 L1468.62 130.22 L1472.43 129.88 L1476.25 129.54 L1480.07 129.19 L1483.88 128.84 L1487.70 128.48 L1491.52 128.13 L1495.33 127.77 L1499.15 127.40 L1502.97 127.04 L1506.78 126.67 L1510.60 126.30 L1514.42 125.92 L1518.24 125.54 L1522.05 125.16 L1525.87 124.78 L1529.69 124.39 L1533.50 124.01 L1537.32 123.62 L1541.14 123.22 L1544.95 122.83 L1548.77 122.43 L1552.59 122.03 L1556.40 121.63 L1560.22 121.23 L1564.04 120.83 L1567.85 120.42 L1571.67 120.01 L1575.49 119.61 L1579.31 119.20 L1583.12 118.78 L1586.94 118.37 L1590.76 117.96 L1594.57 117.54 L1598.39 117.13 L1602.21 116.71 L1606.02 116.29 L1609.84 115.88 L1613.66 115.46 L1617.47 115.04 L1621.29 114.62 L1625.11 114.20 L1628.92 113.78 L1632.74 113.36 L1636.56 112.94 L1640.38 112.51 L1869.39 112.51" fill="none" stroke="#0099C6" stroke-width="6.60" stroke-linejoin="round" stroke-linecap="butt"/>
<path d="M953.34 552.57 V607.57 M937.34 552.57 H969.34 M937.34 607.57 H969.34" fill="none" stroke="#0099C6" stroke-width="5.00" stroke-linecap="round"/>
<path d="M1182.35 190.04 V227.04 M1166.35 190.04 H1198.35 M1166.35 227.04 H1198.35" fill="none" stroke="#0099C6" stroke-width="5.00" stroke-linecap="round"/>
<path d="M1411.36 115.33 V154.33 M1395.36 115.33 H1427.36 M1395.36 154.33 H1427.36" fill="none" stroke="#0099C6" stroke-width="5.00" stroke-linecap="round"/>
<path d="M1640.38 93.51 V131.51 M1624.38 93.51 H1656.38 M1624.38 131.51 H1656.38" fill="none" stroke="#0099C6" stroke-width="5.00" stroke-linecap="round"/>
<path d="M1869.39 93.51 V131.51 M1853.39 93.51 H1885.39 M1853.39 131.51 H1885.39" fill="none" stroke="#0099C6" stroke-width="5.00" stroke-linecap="round"/>
<rect x="248.10" y="1063.90" width="36.40" height="36.40" fill="#0099C6" stroke="#000" stroke-width="5.10" stroke-linejoin="round"/>
<rect x="477.11" y="1063.90" width="36.40" height="36.40" fill="#0099C6" stroke="#000" stroke-width="5.10" stroke-linejoin="round"/>
<rect x="706.12" y="1063.90" width="36.40" height="36.40" fill="#0099C6" stroke="#000" stroke-width="5.10" stroke-linejoin="round"/>
<rect x="935.14" y="561.87" width="36.40" height="36.40" fill="#0099C6" stroke="#000" stroke-width="5.10" stroke-linejoin="round"/>
<rect x="1164.15" y="190.34" width="36.40" height="36.40" fill="#0099C6" stroke="#000" stroke-width="5.10" stroke-linejoin="round"/>
<rect x="1393.16" y="116.63" width="36.40" height="36.40" fill="#0099C6" stroke="#000" stroke-width="5.10" stroke-linejoin="round"/>
<rect x="1622.17" y="94.31" width="36.40" height="36.40" fill="#0099C6" stroke="#000" stroke-width="5.10" stroke-linejoin="round"/>
<rect x="1851.19" y="94.31" width="36.40" height="36.40" fill="#0099C6" stroke="#000" stroke-width="5.10" stroke-linejoin="round"/>
<path d="M266.30 1082.10 L270.12 1082.10 L273.93 1082.10 L277.75 1082.10 L281.57 1082.10 L285.38 1082.10 L289.20 1082.10 L293.02 1082.10 L296.84 1082.10 L300.65 1082.10 L304.47 1082.10 L308.29 1082.10 L312.10 1082.10 L315.92 1082.10 L319.74 1082.10 L323.55 1082.10 L327.37 1082.10 L331.19 1082.10 L335.00 1082.10 L338.82 1082.10 L342.64 1082.10 L346.45 1082.10 L350.27 1082.10 L354.09 1082.10 L357.91 1082.10 L361.72 1082.10 L365.54 1082.10 L369.36 1082.10 L373.17 1082.10 L376.99 1082.10 L380.81 1082.10 L384.62 1082.10 L388.44 1082.10 L392.26 1082.10 L396.07 1082.10 L399.89 1082.10 L403.71 1082.10 L407.52 1082.10 L411.34 1082.10 L415.16 1082.10 L418.98 1082.10 L422.79 1082.10 L426.61 1082.10 L430.43 1082.10 L434.24 1082.10 L438.06 1082.10 L441.88 1082.10 L445.69 1082.10 L449.51 1082.10 L453.33 1082.10 L457.14 1082.10 L460.96 1082.10 L464.78 1082.10 L468.59 1082.10 L472.41 1082.10 L476.23 1082.10 L480.05 1082.10 L483.86 1082.10 L487.68 1082.10 L491.50 1082.10 L495.31 1082.10 L499.13 1082.10 L502.95 1082.09 L506.76 1082.09 L510.58 1082.08 L514.40 1082.08 L518.21 1082.07 L522.03 1082.07 L525.85 1082.06 L529.66 1082.06 L533.48 1082.05 L537.30 1082.05 L541.12 1082.04 L544.93 1082.04 L548.75 1082.03 L552.57 1082.03 L556.38 1082.02 L560.20 1082.02 L564.02 1082.01 L567.83 1082.01 L571.65 1082.00 L575.47 1082.00 L579.28 1081.99 L583.10 1081.99 L586.92 1081.99 L590.73 1081.98 L594.55 1081.98 L598.37 1081.97 L602.18 1081.97 L606.00 1081.97 L609.82 1081.97 L613.64 1081.96 L617.45 1081.96 L621.27 1081.96 L625.09 1081.96 L628.90 1081.96 L632.72 1081.96 L636.54 1081.96 L640.35 1081.96 L644.17 1081.96 L647.99 1081.96 L651.80 1081.96 L655.62 1081.96 L659.44 1081.97 L663.26 1081.97 L667.07 1081.97 L670.89 1081.98 L674.71 1081.98 L678.52 1081.99 L682.34 1081.99 L686.16 1082.00 L689.97 1082.01 L693.79 1082.01 L697.61 1082.02 L701.42 1082.03 L705.24 1082.04 L709.06 1082.05 L712.87 1082.06 L716.69 1082.07 L720.51 1082.09 L724.33 1082.10 L728.14 1082.10 L731.96 1082.10 L735.78 1082.10 M804.48 1082.10 L808.30 1082.10 L812.11 1082.08 L815.93 1082.04 L819.75 1081.99 L823.56 1081.94 L827.38 1081.88 L831.20 1081.81 L835.01 1081.74 L838.83 1081.66 L842.65 1081.57 L846.46 1081.47 L850.28 1081.37 L854.10 1081.26 L857.92 1081.14 L861.73 1081.01 L865.55 1080.87 L869.37 1080.73 L873.18 1080.57 L877.00 1080.41 L880.82 1080.23 L884.63 1080.04 L888.45 1079.85 L892.27 1079.64 L896.08 1079.42 L899.90 1079.19 L903.72 1078.95 L907.54 1078.70 L911.35 1078.43 L915.17 1078.15 L918.99 1077.86 L922.80 1077.56 L926.62 1077.24 L930.44 1076.91 L934.25 1076.56 L938.07 1076.21 L941.89 1075.83 L945.70 1075.45 L949.52 1075.04 L953.34 1074.63 L957.15 1074.19 L960.97 1073.74 L964.79 1073.28 L968.61 1072.80 L972.42 1072.31 L976.24 1071.81 L980.06 1071.28 L983.87 1070.75 L987.69 1070.20 L991.51 1069.64 L995.32 1069.07 L999.14 1068.48 L1002.96 1067.88 L1006.77 1067.27 L1010.59 1066.65 L1014.41 1066.01 L1018.22 1065.37 L1022.04 1064.71 L1025.86 1064.04 L1029.68 1063.36 L1033.49 1062.67 L1037.31 1061.97 L1041.13 1061.26 L1044.94 1060.54 L1048.76 1059.81 L1052.58 1059.07 L1056.39 1058.33 L1060.21 1057.57 L1064.03 1056.80 L1067.84 1056.03 L1071.66 1055.25 L1075.48 1054.46 L1079.29 1053.66 L1083.11 1052.86 L1086.93 1052.05 L1090.75 1051.23 L1094.56 1050.41 L1098.38 1049.58 L1102.20 1048.74 L1106.01 1047.90 L1109.83 1047.05 L1113.65 1046.19 L1117.46 1045.33 L1121.28 1044.47 L1125.10 1043.60 L1128.91 1042.73 L1132.73 1041.85 L1136.55 1040.97 L1140.36 1040.09 L1144.18 1039.20 L1148.00 1038.31 L1151.82 1037.42 L1155.63 1036.52 L1159.45 1035.62 L1163.27 1034.72 L1167.08 1033.82 L1170.90 1032.92 L1174.72 1032.01 L1178.53 1031.10 L1182.35 1030.19 L1186.17 1029.29 L1189.98 1028.38 L1193.80 1027.47 L1197.62 1026.56 L1201.43 1025.65 L1205.25 1024.74 L1209.07 1023.84 L1212.88 1022.93 L1216.70 1022.03 L1220.52 1021.13 L1224.34 1020.22 L1228.15 1019.33 L1231.97 1018.43 L1235.79 1017.54 L1239.60 1016.65 L1243.42 1015.76 L1247.24 1014.88 L1251.05 1014.00 L1254.87 1013.12 L1258.69 1012.25 L1262.50 1011.38 L1266.32 1010.52 L1270.14 1009.66 L1273.96 1008.81 L1277.77 1007.97 L1281.59 1007.13 L1285.41 1006.29 L1289.22 1005.46 L1293.04 1004.64 L1296.86 1003.83 L1300.67 1003.02 L1304.49 1002.22 L1308.31 1001.43 L1312.12 1000.65 L1315.94 999.87 L1319.76 999.10 L1323.57 998.34 L1327.39 997.59 L1331.21 996.85 L1335.03 996.12 L1338.84 995.40 L1342.66 994.69 L1346.48 993.99 L1350.29 993.30 L1354.11 992.62 L1357.93 991.95 L1361.74 991.29 L1365.56 990.65 L1369.38 990.01 L1373.19 989.39 L1377.01 988.78 L1380.83 988.18 L1384.64 987.60 L1388.46 987.03 L1392.28 986.47 L1396.10 985.93 L1399.91 985.40 L1403.73 984.88 L1407.55 984.38 L1411.36 983.90 L1415.18 983.42 L1419.00 982.97 L1422.81 982.52 L1426.63 982.10 L1430.45 981.68 L1434.26 981.28 L1438.08 980.89 L1441.90 980.52 L1445.71 980.16 L1449.53 979.81 L1453.35 979.48 L1457.17 979.15 L1460.98 978.84 L1464.80 978.54 L1468.62 978.25 L1472.43 977.97 L1476.25 977.71 L1480.07 977.45 L1483.88 977.21 L1487.70 976.97 L1491.52 976.75 L1495.33 976.53 L1499.15 976.33 L1502.97 976.13 L1506.78 975.94 L1510.60 975.76 L1514.42 975.59 L1518.24 975.43 L1522.05 975.28 L1525.87 975.13 L1529.69 974.99 L1533.50 974.86 L1537.32 974.74 L1541.14 974.62 L1544.95 974.51 L1548.77 974.40 L1552.59 974.30 L1556.40 974.21 L1560.22 974.12 L1564.04 974.04 L1567.85 973.96 L1571.67 973.89 L1575.49 973.82 L1579.31 973.76 L1583.12 973.70 L1586.94 973.64 L1590.76 973.59 L1594.57 973.54 L1598.39 973.49 L1602.21 973.44 L1606.02 973.40 L1609.84 973.36 L1613.66 973.33 L1617.47 973.29 L1621.29 973.26 L1625.11 973.22 L1628.92 973.19 L1632.74 973.16 L1636.56 973.13 L1640.38 973.10 L1869.39 967.91" fill="none" stroke="#FF8C00" stroke-width="6.60" stroke-linejoin="round" stroke-linecap="butt"/>
<rect x="248.10" y="1063.90" width="36.40" height="36.40" fill="#FF8C00" stroke="#000" stroke-width="5.10" stroke-linejoin="round"/>
<rect x="477.11" y="1063.90" width="36.40" height="36.40" fill="#FF8C00" stroke="#000" stroke-width="5.10" stroke-linejoin="round"/>
<rect x="706.12" y="1063.90" width="36.40" height="36.40" fill="#FF8C00" stroke="#000" stroke-width="5.10" stroke-linejoin="round"/>
<rect x="935.14" y="1056.43" width="36.40" height="36.40" fill="#FF8C00" stroke="#000" stroke-width="5.10" stroke-linejoin="round"/>
<rect x="1164.15" y="1011.99" width="36.40" height="36.40" fill="#FF8C00" stroke="#000" stroke-width="5.10" stroke-linejoin="round"/>
<rect x="1393.16" y="965.70" width="36.40" height="36.40" fill="#FF8C00" stroke="#000" stroke-width="5.10" stroke-linejoin="round"/>
<rect x="1622.17" y="954.90" width="36.40" height="36.40" fill="#FF8C00" stroke="#000" stroke-width="5.10" stroke-linejoin="round"/>
<rect x="1851.19" y="949.71" width="36.40" height="36.40" fill="#FF8C00" stroke="#000" stroke-width="5.10" stroke-linejoin="round"/>
<circle cx="355.00" cy="127.50" r="20.80" fill="#008000" stroke="#000" stroke-width="5.10"/>
<circle cx="355.00" cy="215.00" r="20.80" fill="#FF0000" stroke="#000" stroke-width="5.10"/>
<rect x="337.30" y="284.30" width="36.40" height="36.40" fill="#0099C6" stroke="#000" stroke-width="5.10" stroke-linejoin="round"/>
<rect x="337.30" y="370.80" width="36.40" height="36.40" fill="#FF8C00" stroke="#000" stroke-width="5.10" stroke-linejoin="round"/>
<text transform="matrix(1 0 0 0.6580 0 151.70)" font-family="Liberation Sans, sans-serif" font-weight="bold" font-size="100" fill="#000" stroke="#000" stroke-width="1.20" vector-effect="non-scaling-stroke" stroke-linejoin="round"><tspan x="475.36" y="0.00" textLength="147.39" lengthAdjust="spacingAndGlyphs">CLAY</tspan> <tspan x="639.53" y="0.00" textLength="33.14" lengthAdjust="spacingAndGlyphs">1</tspan> <tspan x="689.61" y="0.00" textLength="133.02" lengthAdjust="spacingAndGlyphs">CON</tspan></text>
<text transform="matrix(1 0 0 0.6580 0 238.70)" font-family="Liberation Sans, sans-serif" font-weight="bold" font-size="100" fill="#000" stroke="#000" stroke-width="1.20" vector-effect="non-scaling-stroke" stroke-linejoin="round"><tspan x="475.36" y="0.00" textLength="147.39" lengthAdjust="spacingAndGlyphs">CLAY</tspan> <tspan x="639.53" y="0.00" textLength="33.14" lengthAdjust="spacingAndGlyphs">1</tspan> <tspan x="689.40" y="0.00" textLength="126.89" lengthAdjust="spacingAndGlyphs">MW</tspan></text>
<text transform="matrix(1 0 0 0.6580 0 325.70)" font-family="Liberation Sans, sans-serif" font-weight="bold" font-size="100" fill="#000" stroke="#000" stroke-width="1.20" vector-effect="non-scaling-stroke" stroke-linejoin="round"><tspan x="475.36" y="0.00" textLength="147.39" lengthAdjust="spacingAndGlyphs">CLAY</tspan> <tspan x="639.69" y="0.00" textLength="33.60" lengthAdjust="spacingAndGlyphs">2</tspan> <tspan x="689.61" y="0.00" textLength="133.02" lengthAdjust="spacingAndGlyphs">CON</tspan></text>
<text transform="matrix(1 0 0 0.6580 0 412.60)" font-family="Liberation Sans, sans-serif" font-weight="bold" font-size="100" fill="#000" stroke="#000" stroke-width="1.20" vector-effect="non-scaling-stroke" stroke-linejoin="round"><tspan x="475.36" y="0.00" textLength="147.39" lengthAdjust="spacingAndGlyphs">CLAY</tspan> <tspan x="639.69" y="0.00" textLength="33.60" lengthAdjust="spacingAndGlyphs">2</tspan> <tspan x="689.40" y="0.00" textLength="126.89" lengthAdjust="spacingAndGlyphs">MW</tspan></text>
<text transform="matrix(1.0758 0 0 1.1014 1981.07 178.80)" font-family="Liberation Sans, sans-serif" font-weight="bold" font-size="100" fill="#000" xml:space="preserve">A</text>
<text transform="matrix(1 0 0 1.1000 0 444.30)" font-family="Liberation Sans, sans-serif" font-weight="bold" font-size="100" fill="#000"><tspan x="1483.80" y="2.91" textLength="46.11" lengthAdjust="spacingAndGlyphs" font-size="116.2">*</tspan> <tspan x="1564.65" y="0.00" textLength="64.32" lengthAdjust="spacingAndGlyphs">P</tspan> <tspan x="1654.96" y="0.00" textLength="58.99" lengthAdjust="spacingAndGlyphs">&lt;</tspan> <tspan x="1741.20" y="0.00" textLength="214.00" lengthAdjust="spacingAndGlyphs">0.05</tspan></text>
<text transform="matrix(1 0 0 0.9600 0 841.60)" font-family="Liberation Sans, sans-serif" font-weight="bold" font-size="100" fill="#000"><tspan x="1096.68" y="0.00" textLength="242.51" lengthAdjust="spacingAndGlyphs">seeds</tspan> <tspan x="1361.73" y="0.00" textLength="283.55" lengthAdjust="spacingAndGlyphs">placed</tspan> <tspan x="1669.28" y="0.00" textLength="372.12" lengthAdjust="spacingAndGlyphs">centrally</tspan></text>
</g>
<g id="panelB">
<line x1="299.7" y1="2078.47" x2="2070.0" y2="2078.47" stroke="#151515" stroke-width="2.10" stroke-dasharray="2.10 9.70"/>
<line x1="299.7" y1="1975.64" x2="2070.0" y2="1975.64" stroke="#151515" stroke-width="2.10" stroke-dasharray="2.10 9.70"/>
<line x1="299.7" y1="1872.81" x2="2070.0" y2="1872.81" stroke="#151515" stroke-width="2.10" stroke-dasharray="2.10 9.70"/>
<line x1="299.7" y1="1769.98" x2="2070.0" y2="1769.98" stroke="#151515" stroke-width="2.10" stroke-dasharray="2.10 9.70"/>
<line x1="299.7" y1="1667.15" x2="2070.0" y2="1667.15" stroke="#151515" stroke-width="2.10" stroke-dasharray="2.10 9.70"/>
<line x1="299.7" y1="1564.32" x2="2070.0" y2="1564.32" stroke="#151515" stroke-width="2.10" stroke-dasharray="2.10 9.70"/>
<line x1="299.7" y1="1461.49" x2="2070.0" y2="1461.49" stroke="#151515" stroke-width="2.10" stroke-dasharray="2.10 9.70"/>
<line x1="299.7" y1="1358.66" x2="2070.0" y2="1358.66" stroke="#151515" stroke-width="2.10" stroke-dasharray="2.10 9.70"/>
<line x1="299.7" y1="1255.83" x2="2070.0" y2="1255.83" stroke="#151515" stroke-width="2.10" stroke-dasharray="2.10 9.70"/>
<line x1="299.7" y1="1153.00" x2="2070.0" y2="1153.00" stroke="#151515" stroke-width="2.10" stroke-dasharray="2.10 9.70"/>
<g stroke="#000" stroke-linecap="butt">
<line x1="265.40" y1="1139.85" x2="265.40" y2="2184.65" stroke-width="6.40"/>
<line x1="2098.30" y1="1139.85" x2="2098.30" y2="2184.65" stroke-width="6.40"/>
<line x1="262.20" y1="1142.85" x2="2101.50" y2="1142.85" stroke-width="6.00"/>
<line x1="262.20" y1="2181.40" x2="2101.50" y2="2181.40" stroke-width="6.50"/>
</g>
<line x1="266.90" y1="2129.89" x2="275.20" y2="2129.89" stroke="#000" stroke-width="6.00" stroke-linecap="round"/>
<line x1="2096.80" y1="2129.89" x2="2088.50" y2="2129.89" stroke="#000" stroke-width="6.00" stroke-linecap="round"/>
<line x1="266.90" y1="2078.47" x2="286.20" y2="2078.47" stroke="#000" stroke-width="6.00" stroke-linecap="round"/>
<line x1="2096.80" y1="2078.47" x2="2077.50" y2="2078.47" stroke="#000" stroke-width="6.00" stroke-linecap="round"/>
<line x1="266.90" y1="2027.06" x2="275.20" y2="2027.06" stroke="#000" stroke-width="6.00" stroke-linecap="round"/>
<line x1="2096.80" y1="2027.06" x2="2088.50" y2="2027.06" stroke="#000" stroke-width="6.00" stroke-linecap="round"/>
<line x1="266.90" y1="1975.64" x2="286.20" y2="1975.64" stroke="#000" stroke-width="6.00" stroke-linecap="round"/>
<line x1="2096.80" y1="1975.64" x2="2077.50" y2="1975.64" stroke="#000" stroke-width="6.00" stroke-linecap="round"/>
<line x1="266.90" y1="1924.23" x2="275.20" y2="1924.23" stroke="#000" stroke-width="6.00" stroke-linecap="round"/>
<line x1="2096.80" y1="1924.23" x2="2088.50" y2="1924.23" stroke="#000" stroke-width="6.00" stroke-linecap="round"/>
<line x1="266.90" y1="1872.81" x2="286.20" y2="1872.81" stroke="#000" stroke-width="6.00" stroke-linecap="round"/>
<line x1="2096.80" y1="1872.81" x2="2077.50" y2="1872.81" stroke="#000" stroke-width="6.00" stroke-linecap="round"/>
<line x1="266.90" y1="1821.40" x2="275.20" y2="1821.40" stroke="#000" stroke-width="6.00" stroke-linecap="round"/>
<line x1="2096.80" y1="1821.40" x2="2088.50" y2="1821.40" stroke="#000" stroke-width="6.00" stroke-linecap="round"/>
<line x1="266.90" y1="1769.98" x2="286.20" y2="1769.98" stroke="#000" stroke-width="6.00" stroke-linecap="round"/>
<line x1="2096.80" y1="1769.98" x2="2077.50" y2="1769.98" stroke="#000" stroke-width="6.00" stroke-linecap="round"/>
<line x1="266.90" y1="1718.57" x2="275.20" y2="1718.57" stroke="#000" stroke-width="6.00" stroke-linecap="round"/>
<line x1="2096.80" y1="1718.57" x2="2088.50" y2="1718.57" stroke="#000" stroke-width="6.00" stroke-linecap="round"/>
<line x1="266.90" y1="1667.15" x2="286.20" y2="1667.15" stroke="#000" stroke-width="6.00" stroke-linecap="round"/>
<line x1="2096.80" y1="1667.15" x2="2077.50" y2="1667.15" stroke="#000" stroke-width="6.00" stroke-linecap="round"/>
<line x1="266.90" y1="1615.74" x2="275.20" y2="1615.74" stroke="#000" stroke-width="6.00" stroke-linecap="round"/>
<line x1="2096.80" y1="1615.74" x2="2088.50" y2="1615.74" stroke="#000" stroke-width="6.00" stroke-linecap="round"/>
<line x1="266.90" y1="1564.32" x2="286.20" y2="1564.32" stroke="#000" stroke-width="6.00" stroke-linecap="round"/>
<line x1="2096.80" y1="1564.32" x2="2077.50" y2="1564.32" stroke="#000" stroke-width="6.00" stroke-linecap="round"/>
<line x1="266.90" y1="1512.91" x2="275.20" y2="1512.91" stroke="#000" stroke-width="6.00" stroke-linecap="round"/>
<line x1="2096.80" y1="1512.91" x2="2088.50" y2="1512.91" stroke="#000" stroke-width="6.00" stroke-linecap="round"/>
<line x1="266.90" y1="1461.49" x2="286.20" y2="1461.49" stroke="#000" stroke-width="6.00" stroke-linecap="round"/>
<line x1="2096.80" y1="1461.49" x2="2077.50" y2="1461.49" stroke="#000" stroke-width="6.00" stroke-linecap="round"/>
<line x1="266.90" y1="1410.08" x2="275.20" y2="1410.08" stroke="#000" stroke-width="6.00" stroke-linecap="round"/>
<line x1="2096.80" y1="1410.08" x2="2088.50" y2="1410.08" stroke="#000" stroke-width="6.00" stroke-linecap="round"/>
<line x1="266.90" y1="1358.66" x2="286.20" y2="1358.66" stroke="#000" stroke-width="6.00" stroke-linecap="round"/>
<line x1="2096.80" y1="1358.66" x2="2077.50" y2="1358.66" stroke="#000" stroke-width="6.00" stroke-linecap="round"/>
<line x1="266.90" y1="1307.25" x2="275.20" y2="1307.25" stroke="#000" stroke-width="6.00" stroke-linecap="round"/>
<line x1="2096.80" y1="1307.25" x2="2088.50" y2="1307.25" stroke="#000" stroke-width="6.00" stroke-linecap="round"/>
<line x1="266.90" y1="1255.83" x2="286.20" y2="1255.83" stroke="#000" stroke-width="6.00" stroke-linecap="round"/>
<line x1="2096.80" y1="1255.83" x2="2077.50" y2="1255.83" stroke="#000" stroke-width="6.00" stroke-linecap="round"/>
<line x1="266.90" y1="1204.42" x2="275.20" y2="1204.42" stroke="#000" stroke-width="6.00" stroke-linecap="round"/>
<line x1="2096.80" y1="1204.42" x2="2088.50" y2="1204.42" stroke="#000" stroke-width="6.00" stroke-linecap="round"/>
<line x1="266.90" y1="1153.00" x2="286.20" y2="1153.00" stroke="#000" stroke-width="6.00" stroke-linecap="round"/>
<line x1="2096.80" y1="1153.00" x2="2077.50" y2="1153.00" stroke="#000" stroke-width="6.00" stroke-linecap="round"/>
<line x1="495.31" y1="1144.40" x2="495.31" y2="1159.90" stroke="#000" stroke-width="6.20" stroke-linecap="round"/>
<line x1="724.33" y1="1144.40" x2="724.33" y2="1159.90" stroke="#000" stroke-width="6.20" stroke-linecap="round"/>
<line x1="953.34" y1="1144.40" x2="953.34" y2="1159.90" stroke="#000" stroke-width="6.20" stroke-linecap="round"/>
<line x1="1182.35" y1="1144.40" x2="1182.35" y2="1159.90" stroke="#000" stroke-width="6.20" stroke-linecap="round"/>
<line x1="1411.36" y1="1144.40" x2="1411.36" y2="1159.90" stroke="#000" stroke-width="6.20" stroke-linecap="round"/>
<line x1="1640.38" y1="1144.40" x2="1640.38" y2="1159.90" stroke="#000" stroke-width="6.20" stroke-linecap="round"/>
<line x1="1869.39" y1="1144.40" x2="1869.39" y2="1159.90" stroke="#000" stroke-width="6.20" stroke-linecap="round"/>
<line x1="495.31" y1="2179.80" x2="495.31" y2="2161.80" stroke="#000" stroke-width="6.20" stroke-linecap="round"/>
<line x1="724.33" y1="2179.80" x2="724.33" y2="2161.80" stroke="#000" stroke-width="6.20" stroke-linecap="round"/>
<line x1="953.34" y1="2179.80" x2="953.34" y2="2161.80" stroke="#000" stroke-width="6.20" stroke-linecap="round"/>
<line x1="1182.35" y1="2179.80" x2="1182.35" y2="2161.80" stroke="#000" stroke-width="6.20" stroke-linecap="round"/>
<line x1="1411.36" y1="2179.80" x2="1411.36" y2="2161.80" stroke="#000" stroke-width="6.20" stroke-linecap="round"/>
<line x1="1640.38" y1="2179.80" x2="1640.38" y2="2161.80" stroke="#000" stroke-width="6.20" stroke-linecap="round"/>
<line x1="1869.39" y1="2179.80" x2="1869.39" y2="2161.80" stroke="#000" stroke-width="6.20" stroke-linecap="round"/>
<text transform="matrix(0.6240 0 0 0.6460 196.88 2204.80)" font-family="Liberation Sans, sans-serif" font-weight="bold" font-size="100" fill="#000">0</text>
<text transform="matrix(0.6240 0 0 0.6460 161.93 2101.97)" font-family="Liberation Sans, sans-serif" font-weight="bold" font-size="100" fill="#000">10</text>
<text transform="matrix(0.6240 0 0 0.6460 161.93 1999.14)" font-family="Liberation Sans, sans-serif" font-weight="bold" font-size="100" fill="#000">20</text>
<text transform="matrix(0.6240 0 0 0.6460 161.93 1896.31)" font-family="Liberation Sans, sans-serif" font-weight="bold" font-size="100" fill="#000">30</text>
<text transform="matrix(0.6240 0 0 0.6460 161.93 1793.48)" font-family="Liberation Sans, sans-serif" font-weight="bold" font-size="100" fill="#000">40</text>
<text transform="matrix(0.6240 0 0 0.6460 161.93 1690.65)" font-family="Liberation Sans, sans-serif" font-weight="bold" font-size="100" fill="#000">50</text>
<text transform="matrix(0.6240 0 0 0.6460 161.93 1587.82)" font-family="Liberation Sans, sans-serif" font-weight="bold" font-size="100" fill="#000">60</text>
<text transform="matrix(0.6240 0 0 0.6460 161.93 1484.99)" font-family="Liberation Sans, sans-serif" font-weight="bold" font-size="100" fill="#000">70</text>
<text transform="matrix(0.6240 0 0 0.6460 161.93 1382.16)" font-family="Liberation Sans, sans-serif" font-weight="bold" font-size="100" fill="#000">80</text>
<text transform="matrix(0.6240 0 0 0.6460 161.93 1279.33)" font-family="Liberation Sans, sans-serif" font-weight="bold" font-size="100" fill="#000">90</text>
<text transform="matrix(0.6240 0 0 0.6460 126.99 1176.50)" font-family="Liberation Sans, sans-serif" font-weight="bold" font-size="100" fill="#000">100</text>
<text transform="matrix(0 -1 0.6500 0 70.30 0)" font-family="Liberation Sans, sans-serif" font-weight="bold" font-size="100" fill="#000"><tspan x="-2110.83" y="0.00" textLength="330.23" lengthAdjust="spacingAndGlyphs">percentage</tspan> <tspan x="-1763.74" y="0.00" textLength="62.19" lengthAdjust="spacingAndGlyphs">of</tspan> <tspan x="-1686.53" y="0.00" textLength="362.10" lengthAdjust="spacingAndGlyphs">germination</tspan> <tspan x="-1306.99" y="0.00" textLength="93.11" lengthAdjust="spacingAndGlyphs">(%)</tspan></text>
<polyline points="266.30,2181.30 495.31,2181.30 724.33,2181.30 953.34,1743.24 1182.35,1330.90 1411.36,1287.09 1640.38,1286.68 1869.39,1286.68" fill="none" stroke="#0099C6" stroke-width="6.60" stroke-linejoin="round"/>
<path d="M953.34 1715.24 V1771.24 M937.64 1715.24 H969.04 M937.64 1771.24 H969.04" fill="none" stroke="#0099C6" stroke-width="5.60" stroke-linecap="round"/>
<path d="M1182.35 1306.90 V1354.90 M1166.65 1306.90 H1198.05 M1166.65 1354.90 H1198.05" fill="none" stroke="#0099C6" stroke-width="5.60" stroke-linecap="round"/>
<path d="M1411.36 1268.09 V1306.09 M1395.66 1268.09 H1427.06 M1395.66 1306.09 H1427.06" fill="none" stroke="#0099C6" stroke-width="5.60" stroke-linecap="round"/>
<path d="M1640.38 1265.68 V1307.68 M1624.67 1265.68 H1656.08 M1624.67 1307.68 H1656.08" fill="none" stroke="#0099C6" stroke-width="5.60" stroke-linecap="round"/>
<path d="M1869.39 1265.68 V1307.68 M1853.69 1265.68 H1885.09 M1853.69 1307.68 H1885.09" fill="none" stroke="#0099C6" stroke-width="5.60" stroke-linecap="round"/>
<circle cx="266.30" cy="2181.30" r="20.60" fill="#0099C6" stroke="#000" stroke-width="3.00"/>
<circle cx="495.31" cy="2181.30" r="20.60" fill="#0099C6" stroke="#000" stroke-width="3.00"/>
<circle cx="724.33" cy="2181.30" r="20.60" fill="#0099C6" stroke="#000" stroke-width="3.00"/>
<circle cx="953.34" cy="1743.24" r="20.60" fill="#0099C6" stroke="#000" stroke-width="3.00"/>
<circle cx="1182.35" cy="1330.90" r="20.60" fill="#0099C6" stroke="#000" stroke-width="3.00"/>
<circle cx="1411.36" cy="1287.09" r="20.60" fill="#0099C6" stroke="#000" stroke-width="3.00"/>
<circle cx="1640.38" cy="1286.68" r="20.60" fill="#0099C6" stroke="#000" stroke-width="3.00"/>
<circle cx="1869.39" cy="1286.68" r="20.60" fill="#0099C6" stroke="#000" stroke-width="3.00"/>
<polyline points="266.30,2181.30 495.31,2181.30 724.33,2181.30 953.34,2181.30 1182.35,2181.30 1411.36,2181.30 1640.38,2181.30 1869.39,2181.30" fill="none" stroke="#FF80FF" stroke-width="6.60" stroke-linejoin="round"/>
<circle cx="266.30" cy="2181.30" r="20.80" fill="#FF80FF" stroke="#000" stroke-width="5.10"/>
<circle cx="495.31" cy="2181.30" r="20.80" fill="#FF80FF" stroke="#000" stroke-width="5.10"/>
<circle cx="724.33" cy="2181.30" r="20.80" fill="#FF80FF" stroke="#000" stroke-width="5.10"/>
<circle cx="953.34" cy="2181.30" r="20.80" fill="#FF80FF" stroke="#000" stroke-width="5.10"/>
<circle cx="1182.35" cy="2181.30" r="20.80" fill="#FF80FF" stroke="#000" stroke-width="5.10"/>
<circle cx="1411.36" cy="2181.30" r="20.80" fill="#FF80FF" stroke="#000" stroke-width="5.10"/>
<circle cx="1640.38" cy="2181.30" r="20.80" fill="#FF80FF" stroke="#000" stroke-width="5.10"/>
<circle cx="1869.39" cy="2181.30" r="20.80" fill="#FF80FF" stroke="#000" stroke-width="5.10"/>
<path d="M266.30 2181.30 L270.12 2180.83 L273.93 2180.35 L277.75 2179.88 L281.57 2179.42 L285.38 2178.95 L289.20 2178.49 L293.02 2178.03 L296.84 2177.58 L300.65 2177.14 L304.47 2176.70 L308.29 2176.27 L312.10 2175.85 L315.92 2175.44 L319.74 2175.04 L323.55 2174.65 L327.37 2174.27 L331.19 2173.90 L335.00 2173.55 L338.82 2173.21 L342.64 2172.89 L346.45 2172.58 L350.27 2172.29 L354.09 2172.02 L357.91 2171.76 L361.72 2171.52 L365.54 2171.31 L369.36 2171.11 L373.17 2170.94 L376.99 2170.78 L380.81 2170.65 L384.62 2170.55 L388.44 2170.46 L392.26 2170.41 L396.07 2170.38 L399.89 2170.37 L403.71 2170.40 L407.52 2170.45 L411.34 2170.53 L415.16 2170.64 L418.98 2170.78 L422.79 2170.96 L426.61 2171.16 L430.43 2171.40 L434.24 2171.68 L438.06 2171.98 L441.88 2172.33 L445.69 2172.71 L449.51 2173.12 L453.33 2173.58 L457.14 2174.07 L460.96 2174.60 L464.78 2175.18 L468.59 2175.79 L472.41 2176.44 L476.23 2177.14 L480.05 2177.88 L483.86 2178.67 L487.68 2179.50 L491.50 2180.38 L495.31 2181.30 M724.33 2181.30 L728.14 2177.89 L731.96 2174.30 L735.78 2170.53 L739.59 2166.57 L743.41 2162.44 L747.23 2158.13 L751.04 2153.66 L754.86 2149.02 L758.68 2144.21 L762.49 2139.25 L766.31 2134.12 L770.13 2128.85 L773.94 2123.42 L777.76 2117.85 L781.58 2112.13 L785.39 2106.27 L789.21 2100.27 L793.03 2094.14 L796.85 2087.87 L800.66 2081.48 L804.48 2074.96 L808.30 2068.33 L812.11 2061.57 L815.93 2054.70 L819.75 2047.71 L823.56 2040.62 L827.38 2033.42 L831.20 2026.12 L835.01 2018.72 L838.83 2011.22 L842.65 2003.63 L846.46 1995.95 L850.28 1988.19 L854.10 1980.34 L857.92 1972.41 L861.73 1964.41 L865.55 1956.33 L869.37 1948.18 L873.18 1939.96 L877.00 1931.68 L880.82 1923.34 L884.63 1914.95 L888.45 1906.49 L892.27 1897.99 L896.08 1889.44 L899.90 1880.85 L903.72 1872.21 L907.54 1863.53 L911.35 1854.83 L915.17 1846.08 L918.99 1837.31 L922.80 1828.52 L926.62 1819.70 L930.44 1810.87 L934.25 1802.02 L938.07 1793.15 L941.89 1784.28 L945.70 1775.40 L949.52 1766.52 L953.34 1757.64 L957.15 1748.76 L960.97 1739.89 L964.79 1731.03 L968.61 1722.18 L972.42 1713.34 L976.24 1704.51 L980.06 1695.71 L983.87 1686.92 L987.69 1678.15 L991.51 1669.41 L995.32 1660.69 L999.14 1652.01 L1002.96 1643.35 L1006.77 1634.73 L1010.59 1626.14 L1014.41 1617.59 L1018.22 1609.08 L1022.04 1600.61 L1025.86 1592.19 L1029.68 1583.81 L1033.49 1575.48 L1037.31 1567.20 L1041.13 1558.98 L1044.94 1550.81 L1048.76 1542.70 L1052.58 1534.65 L1056.39 1526.67 L1060.21 1518.74 L1064.03 1510.89 L1067.84 1503.10 L1071.66 1495.39 L1075.48 1487.74 L1079.29 1480.18 L1083.11 1472.69 L1086.93 1465.28 L1090.75 1457.96 L1094.56 1450.72 L1098.38 1443.57 L1102.20 1436.51 L1106.01 1429.54 L1109.83 1422.66 L1113.65 1415.88 L1117.46 1409.20 L1121.28 1402.62 L1125.10 1396.15 L1128.91 1389.77 L1132.73 1383.51 L1136.55 1377.36 L1140.36 1371.31 L1144.18 1365.39 L1148.00 1359.58 L1151.82 1353.88 L1155.63 1348.31 L1159.45 1342.87 L1163.27 1337.54 L1167.08 1332.35 L1170.90 1327.29 L1174.72 1322.36 L1178.53 1317.56 L1182.35 1312.90 L1186.17 1308.38 L1189.98 1304.00 L1193.80 1299.75 L1197.62 1295.63 L1201.43 1291.64 L1205.25 1287.79 L1209.07 1284.05 L1212.88 1280.44 L1216.70 1276.96 L1220.52 1273.59 L1224.34 1270.33 L1228.15 1267.19 L1231.97 1264.17 L1235.79 1261.25 L1239.60 1258.44 L1243.42 1255.74 L1247.24 1253.14 L1251.05 1250.63 L1254.87 1248.23 L1258.69 1245.93 L1262.50 1243.71 L1266.32 1241.59 L1270.14 1239.56 L1273.96 1237.62 L1277.77 1235.76 L1281.59 1233.98 L1285.41 1232.29 L1289.22 1230.67 L1293.04 1229.12 L1296.86 1227.66 L1300.67 1226.26 L1304.49 1224.93 L1308.31 1223.66 L1312.12 1222.47 L1315.94 1221.33 L1319.76 1220.25 L1323.57 1219.24 L1327.39 1218.27 L1331.21 1217.36 L1335.03 1216.50 L1338.84 1215.69 L1342.66 1214.93 L1346.48 1214.20 L1350.29 1213.52 L1354.11 1212.88 L1357.93 1212.28 L1361.74 1211.71 L1365.56 1211.18 L1369.38 1210.67 L1373.19 1210.20 L1377.01 1209.75 L1380.83 1209.32 L1384.64 1208.91 L1388.46 1208.52 L1392.28 1208.15 L1396.10 1207.80 L1399.91 1207.45 L1403.73 1207.12 L1407.55 1206.79 L1411.36 1206.47 L1415.18 1206.15 L1419.00 1205.84 L1422.81 1205.53 L1426.63 1205.22 L1430.45 1204.91 L1434.26 1204.61 L1438.08 1204.31 L1441.90 1204.01 L1445.71 1203.72 L1449.53 1203.43 L1453.35 1203.14 L1457.17 1202.85 L1460.98 1202.57 L1464.80 1202.28 L1468.62 1202.00 L1472.43 1201.73 L1476.25 1201.45 L1480.07 1201.18 L1483.88 1200.91 L1487.70 1200.64 L1491.52 1200.37 L1495.33 1200.11 L1499.15 1199.85 L1502.97 1199.59 L1506.78 1199.33 L1510.60 1199.07 L1514.42 1198.82 L1518.24 1198.56 L1522.05 1198.31 L1525.87 1198.06 L1529.69 1197.81 L1533.50 1197.57 L1537.32 1197.32 L1541.14 1197.08 L1544.95 1196.83 L1548.77 1196.59 L1552.59 1196.35 L1556.40 1196.11 L1560.22 1195.87 L1564.04 1195.64 L1567.85 1195.40 L1571.67 1195.17 L1575.49 1194.93 L1579.31 1194.70 L1583.12 1194.47 L1586.94 1194.24 L1590.76 1194.00 L1594.57 1193.77 L1598.39 1193.54 L1602.21 1193.32 L1606.02 1193.09 L1609.84 1192.86 L1613.66 1192.63 L1617.47 1192.41 L1621.29 1192.18 L1625.11 1191.95 L1628.92 1191.73 L1632.74 1191.50 L1636.56 1191.27 L1640.38 1191.05 L1869.39 1191.05" fill="none" stroke="#008000" stroke-width="6.60" stroke-linejoin="round" stroke-linecap="butt"/>
<path d="M953.34 1727.64 V1787.64 M937.54 1727.64 H969.14 M937.54 1787.64 H969.14" fill="none" stroke="#008000" stroke-width="5.40" stroke-linecap="round"/>
<path d="M1182.35 1291.90 V1333.90 M1166.55 1291.90 H1198.15 M1166.55 1333.90 H1198.15" fill="none" stroke="#008000" stroke-width="5.40" stroke-linecap="round"/>
<rect x="247.70" y="2162.70" width="37.20" height="37.20" fill="#008000" stroke="#000" stroke-width="2.80" stroke-linejoin="round"/>
<rect x="476.71" y="2162.70" width="37.20" height="37.20" fill="#008000" stroke="#000" stroke-width="2.80" stroke-linejoin="round"/>
<rect x="705.73" y="2162.70" width="37.20" height="37.20" fill="#008000" stroke="#000" stroke-width="2.80" stroke-linejoin="round"/>
<rect x="934.74" y="1739.04" width="37.20" height="37.20" fill="#008000" stroke="#000" stroke-width="2.80" stroke-linejoin="round"/>
<rect x="1163.75" y="1294.30" width="37.20" height="37.20" fill="#008000" stroke="#000" stroke-width="2.80" stroke-linejoin="round"/>
<rect x="1392.76" y="1187.87" width="37.20" height="37.20" fill="#008000" stroke="#000" stroke-width="2.80" stroke-linejoin="round"/>
<rect x="1621.78" y="1172.45" width="37.20" height="37.20" fill="#008000" stroke="#000" stroke-width="2.80" stroke-linejoin="round"/>
<rect x="1850.79" y="1172.45" width="37.20" height="37.20" fill="#008000" stroke="#000" stroke-width="2.80" stroke-linejoin="round"/>
<path d="M266.30 2181.30 L270.12 2181.28 L273.93 2181.26 L277.75 2181.24 L281.57 2181.22 L285.38 2181.20 L289.20 2181.18 L293.02 2181.16 L296.84 2181.14 L300.65 2181.12 L304.47 2181.10 L308.29 2181.08 L312.10 2181.06 L315.92 2181.04 L319.74 2181.02 L323.55 2181.01 L327.37 2180.99 L331.19 2180.97 L335.00 2180.96 L338.82 2180.94 L342.64 2180.93 L346.45 2180.92 L350.27 2180.90 L354.09 2180.89 L357.91 2180.88 L361.72 2180.87 L365.54 2180.86 L369.36 2180.85 L373.17 2180.84 L376.99 2180.84 L380.81 2180.83 L384.62 2180.83 L388.44 2180.82 L392.26 2180.82 L396.07 2180.82 L399.89 2180.82 L403.71 2180.82 L407.52 2180.82 L411.34 2180.83 L415.16 2180.83 L418.98 2180.84 L422.79 2180.84 L426.61 2180.85 L430.43 2180.86 L434.24 2180.88 L438.06 2180.89 L441.88 2180.90 L445.69 2180.92 L449.51 2180.94 L453.33 2180.96 L457.14 2180.98 L460.96 2181.00 L464.78 2181.03 L468.59 2181.06 L472.41 2181.09 L476.23 2181.12 L480.05 2181.15 L483.86 2181.18 L487.68 2181.22 L491.50 2181.26 L495.31 2181.30 L499.13 2181.30 M724.33 2181.30 L728.14 2181.15 L731.96 2180.99 L735.78 2180.83 L739.59 2180.65 L743.41 2180.47 L747.23 2180.28 L751.04 2180.09 L754.86 2179.89 L758.68 2179.68 L762.49 2179.46 L766.31 2179.24 L770.13 2179.02 L773.94 2178.79 L777.76 2178.55 L781.58 2178.31 L785.39 2178.06 L789.21 2177.81 L793.03 2177.56 L796.85 2177.30 L800.66 2177.04 L804.48 2176.77 L808.30 2176.50 L812.11 2176.23 L815.93 2175.96 L819.75 2175.68 L823.56 2175.40 L827.38 2175.12 L831.20 2174.83 L835.01 2174.55 L838.83 2174.26 L842.65 2173.98 L846.46 2173.69 L850.28 2173.40 L854.10 2173.11 L857.92 2172.82 L861.73 2172.53 L865.55 2172.24 L869.37 2171.96 L873.18 2171.67 L877.00 2171.38 L880.82 2171.10 L884.63 2170.82 L888.45 2170.54 L892.27 2170.26 L896.08 2169.98 L899.90 2169.71 L903.72 2169.44 L907.54 2169.17 L911.35 2168.90 L915.17 2168.64 L918.99 2168.39 L922.80 2168.13 L926.62 2167.89 L930.44 2167.64 L934.25 2167.40 L938.07 2167.17 L941.89 2166.94 L945.70 2166.72 L949.52 2166.50 L953.34 2166.29 L957.15 2166.08 L960.97 2165.88 L964.79 2165.69 L968.61 2165.50 L972.42 2165.31 L976.24 2165.14 L980.06 2164.96 L983.87 2164.79 L987.69 2164.62 L991.51 2164.45 L995.32 2164.29 L999.14 2164.13 L1002.96 2163.97 L1006.77 2163.81 L1010.59 2163.66 L1014.41 2163.50 L1018.22 2163.35 L1022.04 2163.19 L1025.86 2163.04 L1029.68 2162.88 L1033.49 2162.73 L1037.31 2162.57 L1041.13 2162.41 L1044.94 2162.25 L1048.76 2162.09 L1052.58 2161.92 L1056.39 2161.75 L1060.21 2161.58 L1064.03 2161.40 L1067.84 2161.22 L1071.66 2161.03 L1075.48 2160.84 L1079.29 2160.64 L1083.11 2160.44 L1086.93 2160.23 L1090.75 2160.02 L1094.56 2159.80 L1098.38 2159.57 L1102.20 2159.33 L1106.01 2159.09 L1109.83 2158.83 L1113.65 2158.57 L1117.46 2158.30 L1121.28 2158.02 L1125.10 2157.74 L1128.91 2157.44 L1132.73 2157.13 L1136.55 2156.81 L1140.36 2156.48 L1144.18 2156.13 L1148.00 2155.78 L1151.82 2155.41 L1155.63 2155.03 L1159.45 2154.64 L1163.27 2154.23 L1167.08 2153.81 L1170.90 2153.38 L1174.72 2152.93 L1178.53 2152.47 L1182.35 2151.99 L1186.17 2151.50 L1189.98 2150.99 L1193.80 2150.47 L1197.62 2149.93 L1201.43 2149.38 L1205.25 2148.82 L1209.07 2148.25 L1212.88 2147.66 L1216.70 2147.06 L1220.52 2146.46 L1224.34 2145.84 L1228.15 2145.21 L1231.97 2144.57 L1235.79 2143.93 L1239.60 2143.28 L1243.42 2142.62 L1247.24 2141.95 L1251.05 2141.28 L1254.87 2140.60 L1258.69 2139.91 L1262.50 2139.22 L1266.32 2138.53 L1270.14 2137.83 L1273.96 2137.13 L1277.77 2136.43 L1281.59 2135.73 L1285.41 2135.02 L1289.22 2134.31 L1293.04 2133.61 L1296.86 2132.90 L1300.67 2132.19 L1304.49 2131.49 L1308.31 2130.79 L1312.12 2130.08 L1315.94 2129.39 L1319.76 2128.69 L1323.57 2128.00 L1327.39 2127.32 L1331.21 2126.63 L1335.03 2125.96 L1338.84 2125.29 L1342.66 2124.63 L1346.48 2123.97 L1350.29 2123.33 L1354.11 2122.69 L1357.93 2122.06 L1361.74 2121.43 L1365.56 2120.82 L1369.38 2120.22 L1373.19 2119.63 L1377.01 2119.06 L1380.83 2118.49 L1384.64 2117.94 L1388.46 2117.40 L1392.28 2116.87 L1396.10 2116.36 L1399.91 2115.86 L1403.73 2115.38 L1407.55 2114.91 L1411.36 2114.46 L1415.18 2114.03 L1419.00 2113.61 L1422.81 2113.21 L1426.63 2112.83 L1430.45 2112.46 L1434.26 2112.11 L1438.08 2111.77 L1441.90 2111.45 L1445.71 2111.14 L1449.53 2110.84 L1453.35 2110.57 L1457.17 2110.30 L1460.98 2110.05 L1464.80 2109.81 L1468.62 2109.58 L1472.43 2109.37 L1476.25 2109.17 L1480.07 2108.98 L1483.88 2108.80 L1487.70 2108.64 L1491.52 2108.49 L1495.33 2108.34 L1499.15 2108.21 L1502.97 2108.09 L1506.78 2107.98 L1510.60 2107.88 L1514.42 2107.79 L1518.24 2107.70 L1522.05 2107.63 L1525.87 2107.56 L1529.69 2107.51 L1533.50 2107.46 L1537.32 2107.42 L1541.14 2107.39 L1544.95 2107.36 L1548.77 2107.34 L1552.59 2107.33 L1556.40 2107.33 L1560.22 2107.33 L1564.04 2107.34 L1567.85 2107.35 L1571.67 2107.37 L1575.49 2107.39 L1579.31 2107.42 L1583.12 2107.45 L1586.94 2107.49 L1590.76 2107.53 L1594.57 2107.57 L1598.39 2107.62 L1602.21 2107.67 L1606.02 2107.73 L1609.84 2107.78 L1613.66 2107.84 L1617.47 2107.90 L1621.29 2107.96 L1625.11 2108.03 L1628.92 2108.09 L1632.74 2108.16 L1636.56 2108.22 L1640.38 2108.29 L1869.39 2108.29" fill="none" stroke="#993300" stroke-width="6.60" stroke-linejoin="round" stroke-linecap="butt"/>
<path d="M1411.36 2087.96 V2140.96 M1395.51 2087.96 H1427.21 M1395.51 2140.96 H1427.21" fill="none" stroke="#FF3CAF" stroke-width="7.30" stroke-linecap="round"/>
<path d="M1640.38 2080.79 V2135.79 M1624.53 2080.79 H1656.22 M1624.53 2135.79 H1656.22" fill="none" stroke="#FF3CAF" stroke-width="7.30" stroke-linecap="round"/>
<path d="M1869.39 2080.79 V2135.79 M1853.54 2080.79 H1885.24 M1853.54 2135.79 H1885.24" fill="none" stroke="#FF3CAF" stroke-width="7.30" stroke-linecap="round"/>
<rect x="247.55" y="2162.55" width="37.50" height="37.50" fill="#993300" stroke="#000" stroke-width="4.70" stroke-linejoin="round"/>
<rect x="476.56" y="2162.55" width="37.50" height="37.50" fill="#993300" stroke="#000" stroke-width="4.70" stroke-linejoin="round"/>
<rect x="705.58" y="2162.55" width="37.50" height="37.50" fill="#993300" stroke="#000" stroke-width="4.70" stroke-linejoin="round"/>
<rect x="934.59" y="2147.54" width="37.50" height="37.50" fill="#993300" stroke="#000" stroke-width="4.70" stroke-linejoin="round"/>
<rect x="1163.60" y="2133.24" width="37.50" height="37.50" fill="#993300" stroke="#000" stroke-width="4.70" stroke-linejoin="round"/>
<rect x="1392.61" y="2095.71" width="37.50" height="37.50" fill="#993300" stroke="#000" stroke-width="4.70" stroke-linejoin="round"/>
<rect x="1621.62" y="2089.54" width="37.50" height="37.50" fill="#993300" stroke="#000" stroke-width="4.70" stroke-linejoin="round"/>
<rect x="1850.64" y="2089.54" width="37.50" height="37.50" fill="#993300" stroke="#000" stroke-width="4.70" stroke-linejoin="round"/>
<circle cx="345.60" cy="1199.00" r="20.60" fill="#0099C6" stroke="#000" stroke-width="3.00"/>
<circle cx="345.60" cy="1286.00" r="20.80" fill="#FF80FF" stroke="#000" stroke-width="5.10"/>
<rect x="327.00" y="1354.70" width="37.20" height="37.20" fill="#008000" stroke="#000" stroke-width="2.80" stroke-linejoin="round"/>
<rect x="326.85" y="1441.25" width="37.50" height="37.50" fill="#993300" stroke="#000" stroke-width="4.70" stroke-linejoin="round"/>
<text transform="matrix(1 0 0 0.6609 0 1222.70)" font-family="Liberation Sans, sans-serif" font-weight="bold" font-size="100" fill="#000" stroke="#000" stroke-width="1.20" vector-effect="non-scaling-stroke" stroke-linejoin="round"><tspan x="464.14" y="0.00" textLength="205.67" lengthAdjust="spacingAndGlyphs">SANDY</tspan> <tspan x="685.15" y="0.00" textLength="182.82" lengthAdjust="spacingAndGlyphs">LOAM</tspan> <tspan x="883.70" y="0.00" textLength="133.12" lengthAdjust="spacingAndGlyphs">CON</tspan></text>
<text transform="matrix(1 0 0 0.6609 0 1308.80)" font-family="Liberation Sans, sans-serif" font-weight="bold" font-size="100" fill="#000" stroke="#000" stroke-width="1.20" vector-effect="non-scaling-stroke" stroke-linejoin="round"><tspan x="464.14" y="0.00" textLength="205.67" lengthAdjust="spacingAndGlyphs">SANDY</tspan> <tspan x="685.15" y="0.00" textLength="182.82" lengthAdjust="spacingAndGlyphs">LOAM</tspan> <tspan x="883.00" y="0.00" textLength="126.89" lengthAdjust="spacingAndGlyphs">MW</tspan></text>
<text transform="matrix(1 0 0 0.6609 0 1395.60)" font-family="Liberation Sans, sans-serif" font-weight="bold" font-size="100" fill="#000" stroke="#000" stroke-width="1.20" vector-effect="non-scaling-stroke" stroke-linejoin="round"><tspan x="464.78" y="0.00" textLength="222.71" lengthAdjust="spacingAndGlyphs">LOAMY</tspan> <tspan x="700.62" y="0.00" textLength="167.86" lengthAdjust="spacingAndGlyphs">SAND</tspan> <tspan x="883.70" y="0.00" textLength="133.12" lengthAdjust="spacingAndGlyphs">CON</tspan></text>
<text transform="matrix(1 0 0 0.6609 0 1482.70)" font-family="Liberation Sans, sans-serif" font-weight="bold" font-size="100" fill="#000" stroke="#000" stroke-width="1.20" vector-effect="non-scaling-stroke" stroke-linejoin="round"><tspan x="464.78" y="0.00" textLength="222.71" lengthAdjust="spacingAndGlyphs">LOAMY</tspan> <tspan x="700.62" y="0.00" textLength="167.86" lengthAdjust="spacingAndGlyphs">SAND</tspan> <tspan x="883.00" y="0.00" textLength="126.89" lengthAdjust="spacingAndGlyphs">MW</tspan></text>
<text transform="matrix(0.9115 0 0 1.1014 1985.42 1274.30)" font-family="Liberation Sans, sans-serif" font-weight="bold" font-size="100" fill="#000" xml:space="preserve">B</text>
<text transform="matrix(1 0 0 1.1000 0 1556.80)" font-family="Liberation Sans, sans-serif" font-weight="bold" font-size="100" fill="#000"><tspan x="1500.30" y="3.73" textLength="46.21" lengthAdjust="spacingAndGlyphs" font-size="116.2">*</tspan> <tspan x="1581.03" y="0.00" textLength="65.51" lengthAdjust="spacingAndGlyphs">P</tspan> <tspan x="1670.44" y="0.00" textLength="59.34" lengthAdjust="spacingAndGlyphs">&lt;</tspan> <tspan x="1757.07" y="0.00" textLength="215.66" lengthAdjust="spacingAndGlyphs">0.05</tspan></text>
<text transform="matrix(1 0 0 0.9600 0 1966.10)" font-family="Liberation Sans, sans-serif" font-weight="bold" font-size="100" fill="#000"><tspan x="1080.77" y="0.00" textLength="243.13" lengthAdjust="spacingAndGlyphs">seeds</tspan> <tspan x="1346.06" y="0.00" textLength="282.50" lengthAdjust="spacingAndGlyphs">placed</tspan> <tspan x="1652.57" y="0.00" textLength="372.92" lengthAdjust="spacingAndGlyphs">centrally</tspan></text>
<text transform="matrix(0.6240 0 0 0.6232 249.14 2280.50)" font-family="Liberation Sans, sans-serif" font-weight="bold" font-size="100" fill="#000">0</text>
<text transform="matrix(0.6240 0 0 0.6232 476.90 2280.50)" font-family="Liberation Sans, sans-serif" font-weight="bold" font-size="100" fill="#000">1</text>
<text transform="matrix(0.6240 0 0 0.6232 707.17 2280.50)" font-family="Liberation Sans, sans-serif" font-weight="bold" font-size="100" fill="#000">2</text>
<text transform="matrix(0.6240 0 0 0.6232 936.49 2280.50)" font-family="Liberation Sans, sans-serif" font-weight="bold" font-size="100" fill="#000">3</text>
<text transform="matrix(0.6240 0 0 0.6232 1164.57 2280.50)" font-family="Liberation Sans, sans-serif" font-weight="bold" font-size="100" fill="#000">4</text>
<text transform="matrix(0.6240 0 0 0.6232 1393.89 2280.50)" font-family="Liberation Sans, sans-serif" font-weight="bold" font-size="100" fill="#000">5</text>
<text transform="matrix(0.6240 0 0 0.6232 1622.90 2280.50)" font-family="Liberation Sans, sans-serif" font-weight="bold" font-size="100" fill="#000">6</text>
<text transform="matrix(0.6240 0 0 0.6232 1852.23 2280.50)" font-family="Liberation Sans, sans-serif" font-weight="bold" font-size="100" fill="#000">7</text>
<text transform="matrix(0.6240 0 0 0.6232 2080.93 2280.50)" font-family="Liberation Sans, sans-serif" font-weight="bold" font-size="100" fill="#000">8</text>
<text transform="matrix(1 0 0 0.6550 0 2356.00)" font-family="Liberation Sans, sans-serif" font-weight="bold" font-size="100" fill="#000"><tspan x="835.55" y="0.00" textLength="134.42" lengthAdjust="spacingAndGlyphs">time</tspan> <tspan x="987.81" y="0.00" textLength="156.33" lengthAdjust="spacingAndGlyphs">(days</tspan> <tspan x="1160.31" y="0.00" textLength="143.40" lengthAdjust="spacingAndGlyphs">from</tspan> <tspan x="1319.15" y="0.00" textLength="231.55" lengthAdjust="spacingAndGlyphs">sowing)</tspan></text>
</g>
<g id="panelC">
<line x1="287.8" y1="3424.53" x2="2072.0" y2="3424.53" stroke="#151515" stroke-width="2.20" stroke-dasharray="2.20 9.57"/>
<line x1="287.8" y1="3324.76" x2="2072.0" y2="3324.76" stroke="#151515" stroke-width="2.20" stroke-dasharray="2.20 9.57"/>
<line x1="287.8" y1="3224.99" x2="2072.0" y2="3224.99" stroke="#151515" stroke-width="2.20" stroke-dasharray="2.20 9.57"/>
<line x1="287.8" y1="3125.22" x2="2072.0" y2="3125.22" stroke="#151515" stroke-width="2.20" stroke-dasharray="2.20 9.57"/>
<line x1="287.8" y1="3025.45" x2="2072.0" y2="3025.45" stroke="#151515" stroke-width="2.20" stroke-dasharray="2.20 9.57"/>
<line x1="287.8" y1="2925.68" x2="2072.0" y2="2925.68" stroke="#151515" stroke-width="2.20" stroke-dasharray="2.20 9.57"/>
<line x1="287.8" y1="2825.91" x2="2072.0" y2="2825.91" stroke="#151515" stroke-width="2.20" stroke-dasharray="2.20 9.57"/>
<line x1="287.8" y1="2726.14" x2="2072.0" y2="2726.14" stroke="#151515" stroke-width="2.20" stroke-dasharray="2.20 9.57"/>
<line x1="287.8" y1="2626.37" x2="2072.0" y2="2626.37" stroke="#151515" stroke-width="2.20" stroke-dasharray="2.20 9.57"/>
<line x1="287.8" y1="2526.60" x2="2072.0" y2="2526.60" stroke="#151515" stroke-width="2.20" stroke-dasharray="2.20 9.57"/>
<path d="M789.60 2562.52 V2550.82 M773.90 2550.82 H805.30" fill="none" stroke="#000" stroke-width="5" stroke-linecap="round"/>
<rect x="711.35" y="2562.52" width="156.50" height="961.78" fill="#FF0000" stroke="#000" stroke-width="5.00"/>
<path d="M1051.70 2646.62 V2629.92 M1036.00 2629.92 H1067.40" fill="none" stroke="#000" stroke-width="5" stroke-linecap="round"/>
<rect x="973.45" y="2646.62" width="156.50" height="877.68" fill="#FF8C00" stroke="#000" stroke-width="5.00"/>
<rect x="1234.55" y="2527.60" width="156.50" height="996.70" fill="#FF80FF" stroke="#000" stroke-width="5.00"/>
<path d="M1574.90 2602.43 V2574.43 M1559.20 2574.43 H1590.60" fill="none" stroke="#000" stroke-width="5" stroke-linecap="round"/>
<rect x="1496.65" y="2602.43" width="156.50" height="921.87" fill="#993300" stroke="#000" stroke-width="5.00"/>
<g stroke="#000" stroke-linecap="butt">
<line x1="265.50" y1="2484.05" x2="265.50" y2="3527.70" stroke-width="6.30"/>
<line x1="2098.30" y1="2484.05" x2="2098.30" y2="3527.70" stroke-width="6.30"/>
<line x1="262.35" y1="2487.15" x2="2101.45" y2="2487.15" stroke-width="6.20"/>
<line x1="262.35" y1="3524.45" x2="2101.45" y2="3524.45" stroke-width="6.50"/>
</g>
<line x1="267.00" y1="3474.41" x2="274.90" y2="3474.41" stroke="#000" stroke-width="6.00" stroke-linecap="round"/>
<line x1="2096.80" y1="3474.41" x2="2088.90" y2="3474.41" stroke="#000" stroke-width="6.00" stroke-linecap="round"/>
<line x1="267.00" y1="3424.53" x2="283.90" y2="3424.53" stroke="#000" stroke-width="6.00" stroke-linecap="round"/>
<line x1="2096.80" y1="3424.53" x2="2079.90" y2="3424.53" stroke="#000" stroke-width="6.00" stroke-linecap="round"/>
<line x1="267.00" y1="3374.64" x2="274.90" y2="3374.64" stroke="#000" stroke-width="6.00" stroke-linecap="round"/>
<line x1="2096.80" y1="3374.64" x2="2088.90" y2="3374.64" stroke="#000" stroke-width="6.00" stroke-linecap="round"/>
<line x1="267.00" y1="3324.76" x2="283.90" y2="3324.76" stroke="#000" stroke-width="6.00" stroke-linecap="round"/>
<line x1="2096.80" y1="3324.76" x2="2079.90" y2="3324.76" stroke="#000" stroke-width="6.00" stroke-linecap="round"/>
<line x1="267.00" y1="3274.88" x2="274.90" y2="3274.88" stroke="#000" stroke-width="6.00" stroke-linecap="round"/>
<line x1="2096.80" y1="3274.88" x2="2088.90" y2="3274.88" stroke="#000" stroke-width="6.00" stroke-linecap="round"/>
<line x1="267.00" y1="3224.99" x2="283.90" y2="3224.99" stroke="#000" stroke-width="6.00" stroke-linecap="round"/>
<line x1="2096.80" y1="3224.99" x2="2079.90" y2="3224.99" stroke="#000" stroke-width="6.00" stroke-linecap="round"/>
<line x1="267.00" y1="3175.11" x2="274.90" y2="3175.11" stroke="#000" stroke-width="6.00" stroke-linecap="round"/>
<line x1="2096.80" y1="3175.11" x2="2088.90" y2="3175.11" stroke="#000" stroke-width="6.00" stroke-linecap="round"/>
<line x1="267.00" y1="3125.22" x2="283.90" y2="3125.22" stroke="#000" stroke-width="6.00" stroke-linecap="round"/>
<line x1="2096.80" y1="3125.22" x2="2079.90" y2="3125.22" stroke="#000" stroke-width="6.00" stroke-linecap="round"/>
<line x1="267.00" y1="3075.34" x2="274.90" y2="3075.34" stroke="#000" stroke-width="6.00" stroke-linecap="round"/>
<line x1="2096.80" y1="3075.34" x2="2088.90" y2="3075.34" stroke="#000" stroke-width="6.00" stroke-linecap="round"/>
<line x1="267.00" y1="3025.45" x2="283.90" y2="3025.45" stroke="#000" stroke-width="6.00" stroke-linecap="round"/>
<line x1="2096.80" y1="3025.45" x2="2079.90" y2="3025.45" stroke="#000" stroke-width="6.00" stroke-linecap="round"/>
<line x1="267.00" y1="2975.57" x2="274.90" y2="2975.57" stroke="#000" stroke-width="6.00" stroke-linecap="round"/>
<line x1="2096.80" y1="2975.57" x2="2088.90" y2="2975.57" stroke="#000" stroke-width="6.00" stroke-linecap="round"/>
<line x1="267.00" y1="2925.68" x2="283.90" y2="2925.68" stroke="#000" stroke-width="6.00" stroke-linecap="round"/>
<line x1="2096.80" y1="2925.68" x2="2079.90" y2="2925.68" stroke="#000" stroke-width="6.00" stroke-linecap="round"/>
<line x1="267.00" y1="2875.80" x2="274.90" y2="2875.80" stroke="#000" stroke-width="6.00" stroke-linecap="round"/>
<line x1="2096.80" y1="2875.80" x2="2088.90" y2="2875.80" stroke="#000" stroke-width="6.00" stroke-linecap="round"/>
<line x1="267.00" y1="2825.91" x2="283.90" y2="2825.91" stroke="#000" stroke-width="6.00" stroke-linecap="round"/>
<line x1="2096.80" y1="2825.91" x2="2079.90" y2="2825.91" stroke="#000" stroke-width="6.00" stroke-linecap="round"/>
<line x1="267.00" y1="2776.03" x2="274.90" y2="2776.03" stroke="#000" stroke-width="6.00" stroke-linecap="round"/>
<line x1="2096.80" y1="2776.03" x2="2088.90" y2="2776.03" stroke="#000" stroke-width="6.00" stroke-linecap="round"/>
<line x1="267.00" y1="2726.14" x2="283.90" y2="2726.14" stroke="#000" stroke-width="6.00" stroke-linecap="round"/>
<line x1="2096.80" y1="2726.14" x2="2079.90" y2="2726.14" stroke="#000" stroke-width="6.00" stroke-linecap="round"/>
<line x1="267.00" y1="2676.26" x2="274.90" y2="2676.26" stroke="#000" stroke-width="6.00" stroke-linecap="round"/>
<line x1="2096.80" y1="2676.26" x2="2088.90" y2="2676.26" stroke="#000" stroke-width="6.00" stroke-linecap="round"/>
<line x1="267.00" y1="2626.37" x2="283.90" y2="2626.37" stroke="#000" stroke-width="6.00" stroke-linecap="round"/>
<line x1="2096.80" y1="2626.37" x2="2079.90" y2="2626.37" stroke="#000" stroke-width="6.00" stroke-linecap="round"/>
<line x1="267.00" y1="2576.49" x2="274.90" y2="2576.49" stroke="#000" stroke-width="6.00" stroke-linecap="round"/>
<line x1="2096.80" y1="2576.49" x2="2088.90" y2="2576.49" stroke="#000" stroke-width="6.00" stroke-linecap="round"/>
<line x1="267.00" y1="2526.60" x2="283.90" y2="2526.60" stroke="#000" stroke-width="6.00" stroke-linecap="round"/>
<line x1="2096.80" y1="2526.60" x2="2079.90" y2="2526.60" stroke="#000" stroke-width="6.00" stroke-linecap="round"/>
<text transform="matrix(0.6240 0 0 0.6460 196.88 3547.80)" font-family="Liberation Sans, sans-serif" font-weight="bold" font-size="100" fill="#000">0</text>
<text transform="matrix(0.6240 0 0 0.6460 161.93 3448.03)" font-family="Liberation Sans, sans-serif" font-weight="bold" font-size="100" fill="#000">10</text>
<text transform="matrix(0.6240 0 0 0.6460 161.93 3348.26)" font-family="Liberation Sans, sans-serif" font-weight="bold" font-size="100" fill="#000">20</text>
<text transform="matrix(0.6240 0 0 0.6460 161.93 3248.49)" font-family="Liberation Sans, sans-serif" font-weight="bold" font-size="100" fill="#000">30</text>
<text transform="matrix(0.6240 0 0 0.6460 161.93 3148.72)" font-family="Liberation Sans, sans-serif" font-weight="bold" font-size="100" fill="#000">40</text>
<text transform="matrix(0.6240 0 0 0.6460 161.93 3048.95)" font-family="Liberation Sans, sans-serif" font-weight="bold" font-size="100" fill="#000">50</text>
<text transform="matrix(0.6240 0 0 0.6460 161.93 2949.18)" font-family="Liberation Sans, sans-serif" font-weight="bold" font-size="100" fill="#000">60</text>
<text transform="matrix(0.6240 0 0 0.6460 161.93 2849.41)" font-family="Liberation Sans, sans-serif" font-weight="bold" font-size="100" fill="#000">70</text>
<text transform="matrix(0.6240 0 0 0.6460 161.93 2749.64)" font-family="Liberation Sans, sans-serif" font-weight="bold" font-size="100" fill="#000">80</text>
<text transform="matrix(0.6240 0 0 0.6460 161.93 2649.87)" font-family="Liberation Sans, sans-serif" font-weight="bold" font-size="100" fill="#000">90</text>
<text transform="matrix(0.6240 0 0 0.6460 126.99 2550.10)" font-family="Liberation Sans, sans-serif" font-weight="bold" font-size="100" fill="#000">100</text>
<text transform="matrix(0 -1 0.6200 0 70.60 0)" font-family="Liberation Sans, sans-serif" font-weight="bold" font-size="100" fill="#000"><tspan x="-3565.88" y="0.00" textLength="318.60" lengthAdjust="spacingAndGlyphs">percentage</tspan> <tspan x="-3231.04" y="0.00" textLength="59.99" lengthAdjust="spacingAndGlyphs">of</tspan> <tspan x="-3156.54" y="0.00" textLength="349.37" lengthAdjust="spacingAndGlyphs">germination</tspan> <tspan x="-2790.89" y="0.00" textLength="238.13" lengthAdjust="spacingAndGlyphs">inibition</tspan> <tspan x="-2534.40" y="0.00" textLength="90.12" lengthAdjust="spacingAndGlyphs">(%)</tspan></text>
<rect x="85.00" y="2409.50" width="155.00" height="31.20" fill="#FF0000" stroke="#000" stroke-width="5.00"/>
<rect x="550.00" y="2409.50" width="152.50" height="31.20" fill="#FF8C00" stroke="#000" stroke-width="5.00"/>
<rect x="982.50" y="2409.50" width="154.20" height="31.20" fill="#FF80FF" stroke="#000" stroke-width="5.00"/>
<rect x="1598.00" y="2409.50" width="155.00" height="31.20" fill="#993300" stroke="#000" stroke-width="5.00"/>
<text transform="matrix(1 0 0 0.6377 0 2448.30)" font-family="Liberation Sans, sans-serif" font-weight="bold" font-size="100" fill="#000" stroke="#000" stroke-width="1.20" vector-effect="non-scaling-stroke" stroke-linejoin="round"><tspan x="278.21" y="0.00" textLength="143.91" lengthAdjust="spacingAndGlyphs">CLAY</tspan> <tspan x="437.04" y="0.00" textLength="33.02" lengthAdjust="spacingAndGlyphs">1</tspan></text>
<text transform="matrix(1 0 0 0.6377 0 2448.30)" font-family="Liberation Sans, sans-serif" font-weight="bold" font-size="100" fill="#000" stroke="#000" stroke-width="1.20" vector-effect="non-scaling-stroke" stroke-linejoin="round"><tspan x="742.21" y="0.00" textLength="144.01" lengthAdjust="spacingAndGlyphs">CLAY</tspan> <tspan x="901.63" y="0.00" textLength="32.81" lengthAdjust="spacingAndGlyphs">2</tspan></text>
<text transform="matrix(1 0 0 0.6377 0 2448.30)" font-family="Liberation Sans, sans-serif" font-weight="bold" font-size="100" fill="#000" stroke="#000" stroke-width="1.20" vector-effect="non-scaling-stroke" stroke-linejoin="round"><tspan x="1173.08" y="0.00" textLength="200.50" lengthAdjust="spacingAndGlyphs">SANDY</tspan> <tspan x="1388.36" y="0.00" textLength="178.21" lengthAdjust="spacingAndGlyphs">LOAM</tspan></text>
<clipPath id="clipR"><rect x="0" y="2380" width="2150" height="100"/></clipPath><g clip-path="url(#clipR)">
<text transform="matrix(1 0 0 0.6377 0 2448.30)" font-family="Liberation Sans, sans-serif" font-weight="bold" font-size="100" fill="#000" stroke="#000" stroke-width="1.20" vector-effect="non-scaling-stroke" stroke-linejoin="round"><tspan x="1791.73" y="0.00" textLength="215.32" lengthAdjust="spacingAndGlyphs">LOAMY</tspan> <tspan x="2020.47" y="0.00" textLength="163.86" lengthAdjust="spacingAndGlyphs">SAND</tspan></text>
</g>
<text transform="matrix(0.9015 0 0 1.1304 1999.29 2623.30)" font-family="Liberation Sans, sans-serif" font-weight="bold" font-size="100" fill="#000" xml:space="preserve">C</text>
<text transform="matrix(1 0 0 0.6550 0 3587.60)" font-family="Liberation Sans, sans-serif" font-weight="bold" font-size="100" fill="#000" stroke="#000" stroke-width="0.80" vector-effect="non-scaling-stroke" stroke-linejoin="round"><tspan x="888.90" y="0.00" textLength="163.22" lengthAdjust="spacingAndGlyphs">seeds</tspan> <tspan x="1064.76" y="0.00" textLength="192.06" lengthAdjust="spacingAndGlyphs">placed</tspan> <tspan x="1268.46" y="0.00" textLength="250.74" lengthAdjust="spacingAndGlyphs">centrally</tspan></text>
</g>
</svg>
</body></html>
